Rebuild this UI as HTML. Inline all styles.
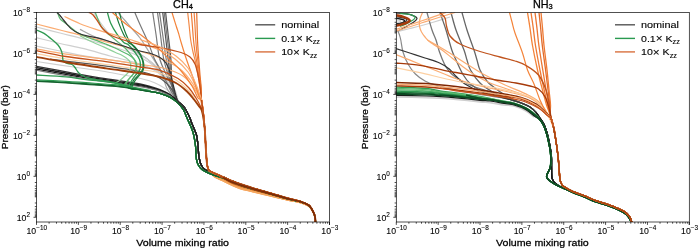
<!DOCTYPE html><html><head><meta charset="utf-8"><style>html,body{margin:0;padding:0;background:#fff;width:700px;height:248px;overflow:hidden}svg{display:block;will-change:transform}text{font-family:"Liberation Sans", sans-serif;fill:#000;stroke:#000;stroke-width:0.28px}</style></head><body>
<svg width="700" height="248" viewBox="0 0 700 248">
<defs><clipPath id="c1"><rect x="36.5" y="12.5" width="293" height="209.5"/></clipPath><clipPath id="c2"><rect x="396.3" y="12.5" width="293" height="209.5"/></clipPath></defs>
<g clip-path="url(#c1)" fill="none" stroke-linecap="butt" stroke-linejoin="round">
<path d="M36.5 37.7 C40.42 38.67 52.08 41.67 60 43.5 C67.92 45.33 75.67 46.62 84 48.7 C92.33 50.78 100.67 53.45 110 56 C119.33 58.55 131.33 61 140 64 C148.67 67 156.33 70 162 74 C167.67 78 171.33 83.67 174 88 C176.67 92.33 177.33 98 178 100" stroke="#cfcfcf" stroke-width="1.2"/>
<path d="M36.5 61.5 C42.08 62.33 57.75 64.67 70 66.5 C82.25 68.33 96.67 70.08 110 72.5 C123.33 74.92 140 77.75 150 81 C160 84.25 165.33 88.58 170 92 C174.67 95.42 176.67 99.92 178 101.5" stroke="#cfcfcf" stroke-width="1.2"/>
<path d="M80 29.4 C82.67 30.73 90.67 35.22 96 37.4 C101.33 39.58 106.67 40.73 112 42.5 C117.33 44.27 123.33 46.08 128 48 C132.67 49.92 136 51.5 140 54 C144 56.5 148.17 59.33 152 63 C155.83 66.67 159.67 71.5 163 76 C166.33 80.5 169.5 85.83 172 90 C174.5 94.17 177 99.17 178 101" stroke="#a6a6a6" stroke-width="1.2"/>
<path d="M36.5 27 C40.42 28 52.08 31 60 33 C67.92 35 75.67 36.83 84 39 C92.33 41.17 101.67 43.5 110 46 C118.33 48.5 127.33 51.17 134 54 C140.67 56.83 145.67 60 150 63 C154.33 66 158.33 70.5 160 72" stroke="#cfcfcf" stroke-width="1.2"/>
<path d="M36.5 46.2 C40.42 47 52.03 49.38 60 51 C67.97 52.62 75.97 54.43 84.3 55.9 C92.63 57.37 101.95 58.53 110 59.8 C118.05 61.07 125.6 61.97 132.6 63.5 C139.6 65.03 146.43 66.25 152 69 C157.57 71.75 162.5 76.17 166 80 C169.5 83.83 171.17 88.67 173 92 C174.83 95.33 176.33 98.67 177 100" stroke="#cfcfcf" stroke-width="1.2"/>
<path d="M94 13 C95 14.5 97.58 18.67 100 22 C102.42 25.33 105.67 29.75 108.5 33 C111.33 36.25 113.78 38.9 117 41.5 C120.22 44.1 123.97 46.35 127.8 48.6 C131.63 50.85 136.3 52.93 140 55 C143.7 57.07 146.67 58.5 150 61 C153.33 63.5 157 66.5 160 70 C163 73.5 165.83 78.17 168 82 C170.17 85.83 172.17 91.17 173 93" stroke="#cfcfcf" stroke-width="1.2"/>
<path d="M118 12.5 C119.17 13.83 122.57 17.7 125 20.5 C127.43 23.3 130.1 26.38 132.6 29.3 C135.1 32.22 137.6 34.78 140 38 C142.4 41.22 144.67 44.93 147 48.6 C149.33 52.27 151.57 55.97 154 60 C156.43 64.03 159.53 68.25 161.6 72.8 C163.67 77.35 164.67 83.43 166.4 87.3 C168.13 91.17 171.07 94.55 172 96" stroke="#a6a6a6" stroke-width="1.2"/>
<path d="M134.8 12.4 C135.67 14.42 137.8 19.57 140 24.5 C142.2 29.43 145.67 36.42 148 42 C150.33 47.58 152 53.5 154 58 C156 62.5 158 65.17 160 69 C162 72.83 164 77 166 81 C168 85 170 89.58 172 93 C174 96.42 176.08 99.25 178 101.5 C179.92 103.75 182 104.75 183.5 106.5 C185 108.25 185.97 110.15 187 112 C188.03 113.85 188.85 115.58 189.7 117.6 C190.55 119.62 191.28 122.03 192.1 124.1 C192.92 126.17 193.87 128.18 194.6 130 C195.33 131.82 196 133 196.5 135 C197 137 197.32 139.83 197.6 142 C197.88 144.17 198.02 145.83 198.2 148 C198.38 150.17 198.47 153 198.7 155 C198.93 157 199.18 158.33 199.6 160 C200.02 161.67 200.43 163.5 201.2 165 C201.97 166.5 202.88 167.83 204.2 169 C205.52 170.17 207.47 171.2 209.1 172 C210.73 172.8 211.85 173.03 214 173.8 C216.15 174.57 219.17 175.47 222 176.6 C224.83 177.73 228 179.35 231 180.6 C234 181.85 236.5 182.9 240 184.12 C243.5 185.34 248 186.7 252 187.92 C256 189.14 260 190.3 264 191.46 C268 192.62 272 193.74 276 194.9 C280 196.06 284 197.37 288 198.44 C292 199.51 296.58 200.22 300 201.32 C303.42 202.42 306.5 203.69 308.5 205.04 C310.5 206.39 311 207.76 312 209.4 C313 211.04 313.95 213.28 314.5 214.88 C315.05 216.48 315.13 217.48 315.3 219 C315.47 220.52 315.47 223.17 315.5 224" stroke="#7a7a7a" stroke-width="1.2"/>
<path d="M152.7 12.4 C153.27 16.17 154.97 27.4 156.1 35 C157.23 42.6 157.79 51.33 159.5 58 C161.21 64.67 164.17 70 166.38 75 C168.58 80 171.23 84.5 172.75 88 C174.27 91.5 174.62 93.75 175.5 96 C176.38 98.25 176.67 99.75 178 101.5 C179.33 103.25 182 104.75 183.5 106.5 C185 108.25 185.97 110.15 187 112 C188.03 113.85 188.85 115.58 189.7 117.6 C190.55 119.62 191.28 122.03 192.1 124.1 C192.92 126.17 193.87 128.18 194.6 130 C195.33 131.82 196 133 196.5 135 C197 137 197.32 139.83 197.6 142 C197.88 144.17 198.02 145.83 198.2 148 C198.38 150.17 198.47 153 198.7 155 C198.93 157 199.18 158.33 199.6 160 C200.02 161.67 200.43 163.5 201.2 165 C201.97 166.5 202.88 167.83 204.2 169 C205.52 170.17 207.47 171.2 209.1 172 C210.73 172.8 211.85 173.03 214 173.8 C216.15 174.57 219.17 175.47 222 176.6 C224.83 177.73 228 179.35 231 180.6 C234 181.85 236.5 182.9 240 184.12 C243.5 185.34 248 186.7 252 187.92 C256 189.14 260 190.3 264 191.46 C268 192.62 272 193.74 276 194.9 C280 196.06 284 197.37 288 198.44 C292 199.51 296.58 200.22 300 201.32 C303.42 202.42 306.5 203.69 308.5 205.04 C310.5 206.39 311 207.76 312 209.4 C313 211.04 313.95 213.28 314.5 214.88 C315.05 216.48 315.13 217.48 315.3 219 C315.47 220.52 315.47 223.17 315.5 224" stroke="#7a7a7a" stroke-width="1.2"/>
<path d="M157.5 12.4 C158 16.17 159.5 27.4 160.5 35 C161.5 42.6 162.22 51.33 163.5 58 C164.78 64.67 166.63 70 168.18 75 C169.72 80 171.53 84.5 172.75 88 C173.97 91.5 174.62 93.75 175.5 96 C176.38 98.25 176.67 99.75 178 101.5 C179.33 103.25 182 104.75 183.5 106.5 C185 108.25 185.97 110.15 187 112 C188.03 113.85 188.85 115.58 189.7 117.6 C190.55 119.62 191.28 122.03 192.1 124.1 C192.92 126.17 193.87 128.18 194.6 130 C195.33 131.82 196 133 196.5 135 C197 137 197.32 139.83 197.6 142 C197.88 144.17 198.02 145.83 198.2 148 C198.38 150.17 198.47 153 198.7 155 C198.93 157 199.18 158.33 199.6 160 C200.02 161.67 200.43 163.5 201.2 165 C201.97 166.5 202.88 167.83 204.2 169 C205.52 170.17 207.47 171.2 209.1 172 C210.73 172.8 211.85 173.03 214 173.8 C216.15 174.57 219.17 175.47 222 176.6 C224.83 177.73 228 179.35 231 180.6 C234 181.85 236.5 182.9 240 184.12 C243.5 185.34 248 186.7 252 187.92 C256 189.14 260 190.3 264 191.46 C268 192.62 272 193.74 276 194.9 C280 196.06 284 197.37 288 198.44 C292 199.51 296.58 200.22 300 201.32 C303.42 202.42 306.5 203.69 308.5 205.04 C310.5 206.39 311 207.76 312 209.4 C313 211.04 313.95 213.28 314.5 214.88 C315.05 216.48 315.13 217.48 315.3 219 C315.47 220.52 315.47 223.17 315.5 224" stroke="#7a7a7a" stroke-width="1.2"/>
<path d="M159.5 12.4 C160.04 16.17 161.67 27.4 162.75 35 C163.83 42.6 164.91 51.33 166 58 C167.09 64.67 168.18 70 169.3 75 C170.43 80 171.72 84.5 172.75 88 C173.78 91.5 174.62 93.75 175.5 96 C176.38 98.25 176.67 99.75 178 101.5 C179.33 103.25 182 104.75 183.5 106.5 C185 108.25 185.97 110.15 187 112 C188.03 113.85 188.85 115.58 189.7 117.6 C190.55 119.62 191.28 122.03 192.1 124.1 C192.92 126.17 193.87 128.18 194.6 130 C195.33 131.82 196 133 196.5 135 C197 137 197.32 139.83 197.6 142 C197.88 144.17 198.02 145.83 198.2 148 C198.38 150.17 198.47 153 198.7 155 C198.93 157 199.18 158.33 199.6 160 C200.02 161.67 200.43 163.5 201.2 165 C201.97 166.5 202.88 167.83 204.2 169 C205.52 170.17 207.47 171.2 209.1 172 C210.73 172.8 211.85 173.03 214 173.8 C216.15 174.57 219.17 175.47 222 176.6 C224.83 177.73 228 179.35 231 180.6 C234 181.85 236.5 182.9 240 184.12 C243.5 185.34 248 186.7 252 187.92 C256 189.14 260 190.3 264 191.46 C268 192.62 272 193.74 276 194.9 C280 196.06 284 197.37 288 198.44 C292 199.51 296.58 200.22 300 201.32 C303.42 202.42 306.5 203.69 308.5 205.04 C310.5 206.39 311 207.76 312 209.4 C313 211.04 313.95 213.28 314.5 214.88 C315.05 216.48 315.13 217.48 315.3 219 C315.47 220.52 315.47 223.17 315.5 224" stroke="#7a7a7a" stroke-width="1.2"/>
<path d="M162.7 12.4 C163.14 16.17 164.47 27.4 165.35 35 C166.23 42.6 167.19 51.33 168 58 C168.81 64.67 169.41 70 170.2 75 C170.99 80 171.87 84.5 172.75 88 C173.63 91.5 174.62 93.75 175.5 96 C176.38 98.25 176.67 99.75 178 101.5 C179.33 103.25 182 104.75 183.5 106.5 C185 108.25 185.97 110.15 187 112 C188.03 113.85 188.85 115.58 189.7 117.6 C190.55 119.62 191.28 122.03 192.1 124.1 C192.92 126.17 193.87 128.18 194.6 130 C195.33 131.82 196 133 196.5 135 C197 137 197.32 139.83 197.6 142 C197.88 144.17 198.02 145.83 198.2 148 C198.38 150.17 198.47 153 198.7 155 C198.93 157 199.18 158.33 199.6 160 C200.02 161.67 200.43 163.5 201.2 165 C201.97 166.5 202.88 167.83 204.2 169 C205.52 170.17 207.47 171.2 209.1 172 C210.73 172.8 211.85 173.03 214 173.8 C216.15 174.57 219.17 175.47 222 176.6 C224.83 177.73 228 179.35 231 180.6 C234 181.85 236.5 182.9 240 184.12 C243.5 185.34 248 186.7 252 187.92 C256 189.14 260 190.3 264 191.46 C268 192.62 272 193.74 276 194.9 C280 196.06 284 197.37 288 198.44 C292 199.51 296.58 200.22 300 201.32 C303.42 202.42 306.5 203.69 308.5 205.04 C310.5 206.39 311 207.76 312 209.4 C313 211.04 313.95 213.28 314.5 214.88 C315.05 216.48 315.13 217.48 315.3 219 C315.47 220.52 315.47 223.17 315.5 224" stroke="#555555" stroke-width="1.2"/>
<path d="M164.2 12.4 C164.64 16.17 165.97 27.4 166.85 35 C167.73 42.6 168.83 51.33 169.5 58 C170.17 64.67 170.33 70 170.88 75 C171.42 80 171.98 84.5 172.75 88 C173.52 91.5 174.62 93.75 175.5 96 C176.38 98.25 176.67 99.75 178 101.5 C179.33 103.25 182 104.75 183.5 106.5 C185 108.25 185.97 110.15 187 112 C188.03 113.85 188.85 115.58 189.7 117.6 C190.55 119.62 191.28 122.03 192.1 124.1 C192.92 126.17 193.87 128.18 194.6 130 C195.33 131.82 196 133 196.5 135 C197 137 197.32 139.83 197.6 142 C197.88 144.17 198.02 145.83 198.2 148 C198.38 150.17 198.47 153 198.7 155 C198.93 157 199.18 158.33 199.6 160 C200.02 161.67 200.43 163.5 201.2 165 C201.97 166.5 202.88 167.83 204.2 169 C205.52 170.17 207.47 171.2 209.1 172 C210.73 172.8 211.85 173.03 214 173.8 C216.15 174.57 219.17 175.47 222 176.6 C224.83 177.73 228 179.35 231 180.6 C234 181.85 236.5 182.9 240 184.12 C243.5 185.34 248 186.7 252 187.92 C256 189.14 260 190.3 264 191.46 C268 192.62 272 193.74 276 194.9 C280 196.06 284 197.37 288 198.44 C292 199.51 296.58 200.22 300 201.32 C303.42 202.42 306.5 203.69 308.5 205.04 C310.5 206.39 311 207.76 312 209.4 C313 211.04 313.95 213.28 314.5 214.88 C315.05 216.48 315.13 217.48 315.3 219 C315.47 220.52 315.47 223.17 315.5 224" stroke="#7a7a7a" stroke-width="1.2"/>
<path d="M165.6 12.4 C166.03 16.17 167.33 27.4 168.2 35 C169.07 42.6 170.26 51.33 170.8 58 C171.34 64.67 171.14 70 171.46 75 C171.78 80 172.08 84.5 172.75 88 C173.42 91.5 174.62 93.75 175.5 96 C176.38 98.25 176.67 99.75 178 101.5 C179.33 103.25 182 104.75 183.5 106.5 C185 108.25 185.97 110.15 187 112 C188.03 113.85 188.85 115.58 189.7 117.6 C190.55 119.62 191.28 122.03 192.1 124.1 C192.92 126.17 193.87 128.18 194.6 130 C195.33 131.82 196 133 196.5 135 C197 137 197.32 139.83 197.6 142 C197.88 144.17 198.02 145.83 198.2 148 C198.38 150.17 198.47 153 198.7 155 C198.93 157 199.18 158.33 199.6 160 C200.02 161.67 200.43 163.5 201.2 165 C201.97 166.5 202.88 167.83 204.2 169 C205.52 170.17 207.47 171.2 209.1 172 C210.73 172.8 211.85 173.03 214 173.8 C216.15 174.57 219.17 175.47 222 176.6 C224.83 177.73 228 179.35 231 180.6 C234 181.85 236.5 182.9 240 184.12 C243.5 185.34 248 186.7 252 187.92 C256 189.14 260 190.3 264 191.46 C268 192.62 272 193.74 276 194.9 C280 196.06 284 197.37 288 198.44 C292 199.51 296.58 200.22 300 201.32 C303.42 202.42 306.5 203.69 308.5 205.04 C310.5 206.39 311 207.76 312 209.4 C313 211.04 313.95 213.28 314.5 214.88 C315.05 216.48 315.13 217.48 315.3 219 C315.47 220.52 315.47 223.17 315.5 224" stroke="#555555" stroke-width="1.2"/>
<path d="M36.5 66.3 C40.42 67.02 52.75 69.25 60 70.6 C67.25 71.95 73.33 73.2 80 74.4 C86.67 75.6 94 76.83 100 77.8 C106 78.77 109.33 79.17 116 80.2 C122.67 81.23 134.33 82.97 140 84 C145.67 85.03 146.67 85.48 150 86.4 C153.33 87.32 156.67 88.13 160 89.5 C163.33 90.87 167 92.6 170 94.6 C173 96.6 175.75 99.52 178 101.5 C180.25 103.48 182 104.75 183.5 106.5 C185 108.25 185.97 110.15 187 112 C188.03 113.85 188.85 115.58 189.7 117.6 C190.55 119.62 191.28 122.03 192.1 124.1 C192.92 126.17 193.87 128.18 194.6 130 C195.33 131.82 196 133 196.5 135 C197 137 197.32 139.83 197.6 142 C197.88 144.17 198.02 145.83 198.2 148 C198.38 150.17 198.47 153 198.7 155 C198.93 157 199.18 158.33 199.6 160 C200.02 161.67 200.43 163.5 201.2 165 C201.97 166.5 202.88 167.83 204.2 169 C205.52 170.17 207.47 171.2 209.1 172 C210.73 172.8 211.85 173.03 214 173.8 C216.15 174.57 219.17 175.47 222 176.6 C224.83 177.73 228 179.35 231 180.6 C234 181.85 236.5 182.9 240 184.12 C243.5 185.34 248 186.7 252 187.92 C256 189.14 260 190.3 264 191.46 C268 192.62 272 193.74 276 194.9 C280 196.06 284 197.37 288 198.44 C292 199.51 296.58 200.22 300 201.32 C303.42 202.42 306.5 203.69 308.5 205.04 C310.5 206.39 311 207.76 312 209.4 C313 211.04 313.95 213.28 314.5 214.88 C315.05 216.48 315.13 217.48 315.3 219 C315.47 220.52 315.47 223.17 315.5 224" stroke="#333333" stroke-width="1.32"/>
<path d="M36.5 67.7 C40.42 68.42 52.75 70.67 60 72 C67.25 73.33 73.33 74.51 80 75.66 C86.67 76.81 94 77.99 100 78.92 C106 79.85 109.33 80.25 116 81.25 C122.67 82.25 134.33 83.92 140 84.91 C145.67 85.9 146.67 86.3 150 87.17 C153.33 88.04 156.67 88.82 160 90.13 C163.33 91.44 167 93.12 170 95.02 C173 96.91 175.75 99.59 178 101.5 C180.25 103.41 182 104.75 183.5 106.5 C185 108.25 185.97 110.15 187 112 C188.03 113.85 188.85 115.58 189.7 117.6 C190.55 119.62 191.28 122.03 192.1 124.1 C192.92 126.17 193.87 128.18 194.6 130 C195.33 131.82 196 133 196.5 135 C197 137 197.32 139.83 197.6 142 C197.88 144.17 198.02 145.83 198.2 148 C198.38 150.17 198.47 153 198.7 155 C198.93 157 199.18 158.33 199.6 160 C200.02 161.67 200.43 163.5 201.2 165 C201.97 166.5 202.88 167.83 204.2 169 C205.52 170.17 207.47 171.2 209.1 172 C210.73 172.8 211.85 173.03 214 173.8 C216.15 174.57 219.17 175.47 222 176.6 C224.83 177.73 228 179.35 231 180.6 C234 181.85 236.5 182.9 240 184.12 C243.5 185.34 248 186.7 252 187.92 C256 189.14 260 190.3 264 191.46 C268 192.62 272 193.74 276 194.9 C280 196.06 284 197.37 288 198.44 C292 199.51 296.58 200.22 300 201.32 C303.42 202.42 306.5 203.69 308.5 205.04 C310.5 206.39 311 207.76 312 209.4 C313 211.04 313.95 213.28 314.5 214.88 C315.05 216.48 315.13 217.48 315.3 219 C315.47 220.52 315.47 223.17 315.5 224" stroke="#1a1a1a" stroke-width="1.32"/>
<path d="M36.5 69.1 C40.42 69.82 52.75 72.1 60 73.4 C67.25 74.7 73.33 75.81 80 76.92 C86.67 78.03 94 79.14 100 80.04 C106 80.94 109.33 81.34 116 82.3 C122.67 83.26 134.33 84.88 140 85.82 C145.67 86.76 146.67 87.12 150 87.94 C153.33 88.76 156.67 89.51 160 90.76 C163.33 92.01 167 93.65 170 95.44 C173 97.23 175.75 99.66 178 101.5 C180.25 103.34 182 104.75 183.5 106.5 C185 108.25 185.97 110.15 187 112 C188.03 113.85 188.85 115.58 189.7 117.6 C190.55 119.62 191.28 122.03 192.1 124.1 C192.92 126.17 193.87 128.18 194.6 130 C195.33 131.82 196 133 196.5 135 C197 137 197.32 139.83 197.6 142 C197.88 144.17 198.02 145.83 198.2 148 C198.38 150.17 198.47 153 198.7 155 C198.93 157 199.18 158.33 199.6 160 C200.02 161.67 200.43 163.5 201.2 165 C201.97 166.5 202.88 167.83 204.2 169 C205.52 170.17 207.47 171.2 209.1 172 C210.73 172.8 211.85 173.03 214 173.8 C216.15 174.57 219.17 175.47 222 176.6 C224.83 177.73 228 179.35 231 180.6 C234 181.85 236.5 182.9 240 184.12 C243.5 185.34 248 186.7 252 187.92 C256 189.14 260 190.3 264 191.46 C268 192.62 272 193.74 276 194.9 C280 196.06 284 197.37 288 198.44 C292 199.51 296.58 200.22 300 201.32 C303.42 202.42 306.5 203.69 308.5 205.04 C310.5 206.39 311 207.76 312 209.4 C313 211.04 313.95 213.28 314.5 214.88 C315.05 216.48 315.13 217.48 315.3 219 C315.47 220.52 315.47 223.17 315.5 224" stroke="#1a1a1a" stroke-width="1.32"/>
<path d="M36.5 70.3 C40.42 71.02 52.75 73.32 60 74.6 C67.25 75.88 73.33 76.93 80 78 C86.67 79.07 94 80.13 100 81 C106 81.87 109.33 82.27 116 83.2 C122.67 84.13 134.33 85.7 140 86.6 C145.67 87.5 146.67 87.82 150 88.6 C153.33 89.38 156.67 90.1 160 91.3 C163.33 92.5 167 94.1 170 95.8 C173 97.5 175.75 99.72 178 101.5 C180.25 103.28 182 104.75 183.5 106.5 C185 108.25 185.97 110.15 187 112 C188.03 113.85 188.85 115.58 189.7 117.6 C190.55 119.62 191.28 122.03 192.1 124.1 C192.92 126.17 193.87 128.18 194.6 130 C195.33 131.82 196 133 196.5 135 C197 137 197.32 139.83 197.6 142 C197.88 144.17 198.02 145.83 198.2 148 C198.38 150.17 198.47 153 198.7 155 C198.93 157 199.18 158.33 199.6 160 C200.02 161.67 200.43 163.5 201.2 165 C201.97 166.5 202.88 167.83 204.2 169 C205.52 170.17 207.47 171.2 209.1 172 C210.73 172.8 211.85 173.03 214 173.8 C216.15 174.57 219.17 175.47 222 176.6 C224.83 177.73 228 179.35 231 180.6 C234 181.85 236.5 182.9 240 184.12 C243.5 185.34 248 186.7 252 187.92 C256 189.14 260 190.3 264 191.46 C268 192.62 272 193.74 276 194.9 C280 196.06 284 197.37 288 198.44 C292 199.51 296.58 200.22 300 201.32 C303.42 202.42 306.5 203.69 308.5 205.04 C310.5 206.39 311 207.76 312 209.4 C313 211.04 313.95 213.28 314.5 214.88 C315.05 216.48 315.13 217.48 315.3 219 C315.47 220.52 315.47 223.17 315.5 224" stroke="#7a7a7a" stroke-width="1.08"/>
<path d="M50 59.2 C52.67 59.52 56.67 59.95 66 61.1 C75.33 62.25 93.67 64.37 106 66.1 C118.33 67.83 131.33 69.68 140 71.5 C148.67 73.32 153 74.42 158 77 C163 79.58 167.17 83.83 170 87 C172.83 90.17 173.67 93.58 175 96 C176.33 98.42 176.58 99.75 178 101.5 C179.42 103.25 182 104.75 183.5 106.5 C185 108.25 185.97 110.15 187 112 C188.03 113.85 188.85 115.58 189.7 117.6 C190.55 119.62 191.28 122.03 192.1 124.1 C192.92 126.17 193.87 128.18 194.6 130 C195.33 131.82 196 133 196.5 135 C197 137 197.32 139.83 197.6 142 C197.88 144.17 198.02 145.83 198.2 148 C198.38 150.17 198.47 153 198.7 155 C198.93 157 199.18 158.33 199.6 160 C200.02 161.67 200.43 163.5 201.2 165 C201.97 166.5 202.88 167.83 204.2 169 C205.52 170.17 207.47 171.2 209.1 172 C210.73 172.8 211.85 173.03 214 173.8 C216.15 174.57 219.17 175.47 222 176.6 C224.83 177.73 228 179.35 231 180.6 C234 181.85 236.5 182.9 240 184.12 C243.5 185.34 248 186.7 252 187.92 C256 189.14 260 190.3 264 191.46 C268 192.62 272 193.74 276 194.9 C280 196.06 284 197.37 288 198.44 C292 199.51 296.58 200.22 300 201.32 C303.42 202.42 306.5 203.69 308.5 205.04 C310.5 206.39 311 207.76 312 209.4 C313 211.04 313.95 213.28 314.5 214.88 C315.05 216.48 315.13 217.48 315.3 219 C315.47 220.52 315.47 223.17 315.5 224" stroke="#555555" stroke-width="1.2"/>
<path d="M172 96.5 C173 97.33 176.08 99.83 178 101.5 C179.92 103.17 182 104.75 183.5 106.5 C185 108.25 185.97 110.15 187 112 C188.03 113.85 188.85 115.58 189.7 117.6 C190.55 119.62 191.28 122.03 192.1 124.1 C192.92 126.17 193.87 128.18 194.6 130 C195.33 131.82 196 133 196.5 135 C197 137 197.32 139.83 197.6 142 C197.88 144.17 198.02 145.83 198.2 148 C198.38 150.17 198.47 153 198.7 155 C198.93 157 199.18 158.33 199.6 160 C200.02 161.67 200.43 163.5 201.2 165 C201.97 166.5 202.88 167.83 204.2 169 C205.52 170.17 208.28 171.5 209.1 172" stroke="#1a1a1a" stroke-width="1.25"/>
<path d="M36.5 24 C40.42 25 52.08 28 60 30 C67.92 32 75.67 33.83 84 36 C92.33 38.17 101.33 40.67 110 43 C118.67 45.33 127.67 47.5 136 50 C144.33 52.5 152.67 54.83 160 58 C167.33 61.17 174.5 64.67 180 69 C185.5 73.33 189.75 79.33 193 84 C196.25 88.67 198.08 94.33 199.5 97 C200.92 99.67 200.88 97.5 201.5 100 C202.12 102.5 202.73 108 203.2 112 C203.67 116 203.97 120 204.3 124 C204.63 128 204.95 132 205.2 136 C205.45 140 205.6 144.5 205.8 148 C206 151.5 206.2 154.33 206.4 157 C206.6 159.67 206.55 161.73 207 164 C207.45 166.27 207.93 168.69 209.1 170.6 C210.27 172.51 211.85 174.04 214 175.48 C216.15 176.92 219.17 177.94 222 179.26 C224.83 180.58 228 182.14 231 183.42 C234 184.7 236.5 185.79 240 186.92 C243.5 188.05 248 189.15 252 190.22 C256 191.29 260 192.33 264 193.36 C268 194.39 272 195.37 276 196.4 C280 197.43 284 198.59 288 199.54 C292 200.49 296.58 201.1 300 202.12 C303.42 203.14 306.5 204.34 308.5 205.64 C310.5 206.94 311 208.33 312 209.9 C313 211.47 313.95 213.56 314.5 215.08 C315.05 216.6 315.13 217.51 315.3 219 C315.47 220.49 315.47 223.17 315.5 224" stroke="#fbac72" stroke-width="1.2"/>
<path d="M36.5 48.8 C41.42 49.7 54.42 52.45 66 54.2 C77.58 55.95 93.67 57.62 106 59.3 C118.33 60.98 130.17 62.77 140 64.3 C149.83 65.83 157.83 66.55 165 68.5 C172.17 70.45 178.17 72.75 183 76 C187.83 79.25 191.17 84.17 194 88 C196.83 91.83 198.47 95 200 99 C201.53 103 202.48 107.83 203.2 112 C203.92 116.17 203.97 120 204.3 124 C204.63 128 204.95 132 205.2 136 C205.45 140 205.6 144.5 205.8 148 C206 151.5 206.2 154.33 206.4 157 C206.6 159.67 206.55 161.73 207 164 C207.45 166.27 207.93 168.52 209.1 170.6 C210.27 172.68 211.85 174.87 214 176.5 C216.15 178.13 219.17 179.02 222 180.4 C224.83 181.78 228 183.43 231 184.8 C234 186.17 236.5 187.47 240 188.6 C243.5 189.73 248 190.62 252 191.6 C256 192.58 260 193.55 264 194.5 C268 195.45 272 196.35 276 197.3 C280 198.25 284 199.32 288 200.2 C292 201.08 296.58 201.63 300 202.6 C303.42 203.57 306.5 204.73 308.5 206 C310.5 207.27 311 208.67 312 210.2 C313 211.73 313.95 213.73 314.5 215.2 C315.05 216.67 315.13 217.53 315.3 219 C315.47 220.47 315.47 223.17 315.5 224" stroke="#fbac72" stroke-width="1.2"/>
<path d="M36.5 53.6 C41.42 54.5 54.42 57.18 66 59 C77.58 60.82 93.67 62.75 106 64.5 C118.33 66.25 131 68.08 140 69.5 C149 70.92 154 71.25 160 73 C166 74.75 171.17 77 176 80 C180.83 83 185.5 87.17 189 91 C192.5 94.83 194.87 99.67 197 103 C199.13 106.33 200.58 107.5 201.8 111 C203.02 114.5 203.73 119.83 204.3 124 C204.87 128.17 204.95 132 205.2 136 C205.45 140 205.6 144.5 205.8 148 C206 151.5 206.2 154.33 206.4 157 C206.6 159.67 206.55 161.73 207 164 C207.45 166.27 207.93 168.83 209.1 170.6 C210.27 172.37 211.85 173.34 214 174.63 C216.15 175.91 219.17 177.04 222 178.31 C224.83 179.58 228 181.07 231 182.27 C234 183.47 236.5 184.39 240 185.52 C243.5 186.65 248 187.92 252 189.07 C256 190.22 260 191.31 264 192.41 C268 193.51 272 194.55 276 195.65 C280 196.75 284 197.98 288 198.99 C292 200 296.58 200.66 300 201.72 C303.42 202.78 306.5 204.02 308.5 205.34 C310.5 206.66 311 208.04 312 209.65 C313 211.26 313.95 213.42 314.5 214.98 C315.05 216.54 315.13 217.5 315.3 219 C315.47 220.5 315.47 223.17 315.5 224" stroke="#fdd0a2" stroke-width="1.2"/>
<path d="M207.6 167.6 C207.85 168.1 208.03 169.54 209.1 170.6 C210.17 171.66 211.85 172.79 214 173.95 C216.15 175.11 219.17 176.32 222 177.55 C224.83 178.78 228 180.21 231 181.35 C234 182.49 236.5 183.27 240 184.4 C243.5 185.53 248 186.94 252 188.15 C256 189.36 260 190.5 264 191.65 C268 192.8 272 193.9 276 195.05 C280 196.2 284 197.49 288 198.55 C292 199.61 296.58 200.31 300 201.4 C303.42 202.49 306.5 203.76 308.5 205.1 C310.5 206.44 311 207.82 312 209.45 C313 211.08 313.95 213.31 314.5 214.9 C315.05 216.49 315.13 217.48 315.3 219 C315.47 220.52 315.47 223.17 315.5 224" stroke="#ee9240" stroke-width="1.32"/>
<path d="M207.6 167.6 C207.85 168.1 208.03 169.47 209.1 170.6 C210.17 171.73 211.85 173.15 214 174.39 C216.15 175.63 219.17 176.78 222 178.04 C224.83 179.3 228 180.77 231 181.95 C234 183.13 236.5 183.99 240 185.13 C243.5 186.26 248 187.58 252 188.75 C256 189.92 260 191.03 264 192.14 C268 193.26 272 194.32 276 195.44 C280 196.56 284 197.81 288 198.84 C292 199.86 296.58 200.54 300 201.61 C303.42 202.68 306.5 203.93 308.5 205.26 C310.5 206.58 311 207.96 312 209.58 C313 211.2 313.95 213.38 314.5 214.95 C315.05 216.52 315.13 217.49 315.3 219 C315.47 220.51 315.47 223.17 315.5 224" stroke="#f29c4c" stroke-width="1.32"/>
<path d="M207.6 167.6 C207.85 168.1 208.03 169.4 209.1 170.6 C210.17 171.8 211.85 173.48 214 174.8 C216.15 176.12 219.17 177.22 222 178.5 C224.83 179.78 228 181.28 231 182.5 C234 183.72 236.5 184.67 240 185.8 C243.5 186.93 248 188.17 252 189.3 C256 190.43 260 191.52 264 192.6 C268 193.68 272 194.72 276 195.8 C280 196.88 284 198.1 288 199.1 C292 200.1 296.58 200.75 300 201.8 C303.42 202.85 306.5 204.08 308.5 205.4 C310.5 206.72 311 208.1 312 209.7 C313 211.3 313.95 213.45 314.5 215 C315.05 216.55 315.13 217.5 315.3 219 C315.47 220.5 315.47 223.17 315.5 224" stroke="#ef9644" stroke-width="1.32"/>
<path d="M207.6 167.6 C207.85 168.1 208.03 169.33 209.1 170.6 C210.17 171.87 211.85 173.82 214 175.21 C216.15 176.6 219.17 177.65 222 178.96 C224.83 180.26 228 181.8 231 183.05 C234 184.3 236.5 185.34 240 186.47 C243.5 187.61 248 188.75 252 189.85 C256 190.95 260 192 264 193.06 C268 194.11 272 195.11 276 196.16 C280 197.21 284 198.39 288 199.36 C292 200.34 296.58 200.96 300 201.99 C303.42 203.02 306.5 204.24 308.5 205.54 C310.5 206.85 311 208.24 312 209.82 C313 211.4 313.95 213.52 314.5 215.05 C315.05 216.58 315.13 217.51 315.3 219 C315.47 220.49 315.47 223.17 315.5 224" stroke="#f3a052" stroke-width="1.32"/>
<path d="M207.6 167.6 C207.85 168.1 208.03 169.26 209.1 170.6 C210.17 171.94 211.85 174.15 214 175.62 C216.15 177.08 219.17 178.08 222 179.41 C224.83 180.74 228 182.32 231 183.6 C234 184.89 236.5 186.01 240 187.14 C243.5 188.28 248 189.34 252 190.4 C256 191.47 260 192.49 264 193.51 C268 194.53 272 195.5 276 196.52 C280 197.54 284 198.68 288 199.63 C292 200.57 296.58 201.17 300 202.18 C303.42 203.19 306.5 204.4 308.5 205.69 C310.5 206.98 311 208.37 312 209.94 C313 211.51 313.95 213.59 314.5 215.1 C315.05 216.61 315.13 217.52 315.3 219 C315.47 220.48 315.47 223.17 315.5 224" stroke="#ec8a3a" stroke-width="1.32"/>
<path d="M207.6 167.6 C207.85 168.1 208.03 169.2 209.1 170.6 C210.17 172 211.85 174.45 214 175.99 C216.15 177.53 219.17 178.48 222 179.83 C224.83 181.18 228 182.79 231 184.11 C234 185.43 236.5 186.63 240 187.76 C243.5 188.89 248 189.88 252 190.91 C256 191.94 260 192.94 264 193.93 C268 194.92 272 195.86 276 196.85 C280 197.84 284 198.95 288 199.87 C292 200.79 296.58 201.37 300 202.36 C303.42 203.35 306.5 204.54 308.5 205.82 C310.5 207.1 311 208.5 312 210.05 C313 211.6 313.95 213.65 314.5 215.14 C315.05 216.63 315.13 217.52 315.3 219 C315.47 220.48 315.47 223.17 315.5 224" stroke="#f09848" stroke-width="1.32"/>
<path d="M207.6 167.6 C207.85 168.1 208.03 169.16 209.1 170.6 C210.17 172.04 211.85 174.67 214 176.26 C216.15 177.85 219.17 178.76 222 180.13 C224.83 181.5 228 183.13 231 184.48 C234 185.82 236.5 187.07 240 188.21 C243.5 189.34 248 190.27 252 191.28 C256 192.28 260 193.27 264 194.23 C268 195.2 272 196.12 276 197.09 C280 198.06 284 199.15 288 200.05 C292 200.95 296.58 201.51 300 202.49 C303.42 203.47 306.5 204.64 308.5 205.92 C310.5 207.19 311 208.59 312 210.13 C313 211.67 313.95 213.69 314.5 215.17 C315.05 216.65 315.13 217.53 315.3 219 C315.47 220.47 315.47 223.17 315.5 224" stroke="#f4a458" stroke-width="1.32"/>
<path d="M207.6 167.6 C207.85 168.1 208.03 169.12 209.1 170.6 C210.17 172.08 211.85 174.87 214 176.5 C216.15 178.13 219.17 179.02 222 180.4 C224.83 181.78 228 183.43 231 184.8 C234 186.17 236.5 187.47 240 188.6 C243.5 189.73 248 190.62 252 191.6 C256 192.58 260 193.55 264 194.5 C268 195.45 272 196.35 276 197.3 C280 198.25 284 199.32 288 200.2 C292 201.08 296.58 201.63 300 202.6 C303.42 203.57 306.5 204.73 308.5 206 C310.5 207.27 311 208.67 312 210.2 C313 211.73 313.95 213.73 314.5 215.2 C315.05 216.67 315.13 217.53 315.3 219 C315.47 220.47 315.47 223.17 315.5 224" stroke="#f5a860" stroke-width="1.32"/>
<path d="M36.5 30 C37.75 30.57 41.32 31.73 44 33.4 C46.68 35.07 50.27 38.07 52.6 40 C54.93 41.93 56.6 43.33 58 45 C59.4 46.67 60.25 48.33 61 50 C61.75 51.67 62.17 53.33 62.5 55 C62.83 56.67 62.42 58.67 63 60 C63.58 61.33 64.5 62.25 66 63 C67.5 63.75 70.5 63.75 72 64.5 C73.5 65.25 74 66.25 75 67.5 C76 68.75 76.83 70.67 78 72 C79.17 73.33 80 74.42 82 75.5 C84 76.58 85.67 77.5 90 78.5 C94.33 79.5 99.67 79.67 108 81.5 C116.33 83.33 133 87.87 140 89.5 C147 91.13 146.67 90.65 150 91.3 C153.33 91.95 156.63 92.4 160 93.4 C163.37 94.4 167.17 95.67 170.2 97.3 C173.23 98.93 175.97 101.08 178.2 103.2 C180.43 105.32 182.17 107.6 183.6 110 C185.03 112.4 185.78 115.25 186.8 117.6 C187.82 119.95 188.8 122.03 189.7 124.1 C190.6 126.17 191.53 128.18 192.2 130 C192.87 131.82 193.23 133 193.7 135 C194.17 137 194.67 139.83 195 142 C195.33 144.17 195.52 145.83 195.7 148 C195.88 150.17 195.95 153 196.1 155 C196.25 157 196.23 158.33 196.6 160 C196.97 161.67 197.4 163.4 198.3 165 C199.2 166.6 200.43 168.32 202 169.6 C203.57 170.88 205.57 171.72 207.7 172.7 C209.83 173.68 212.22 174.62 214.8 175.5 C217.38 176.38 220.5 176.98 223.2 178 C225.9 179.02 228.2 180.39 231 181.6 C233.8 182.81 236.5 184.03 240 185.24 C243.5 186.45 248 187.68 252 188.84 C256 190 260 191.11 264 192.22 C268 193.33 272 194.39 276 195.5 C280 196.61 284 197.86 288 198.88 C292 199.9 296.58 200.57 300 201.64 C303.42 202.71 306.5 203.95 308.5 205.28 C310.5 206.61 311 207.99 312 209.6 C313 211.21 313.95 213.39 314.5 214.96 C315.05 216.53 315.13 217.49 315.3 219 C315.47 220.51 315.47 223.17 315.5 224" stroke="#2f9a52" stroke-width="1.32"/>
<path d="M57.5 12.5 C57.92 13.52 58.83 16.93 60 18.6 C61.17 20.27 63 21.27 64.5 22.5 C66 23.73 66.75 24.25 69 26 C71.25 27.75 75 31.13 78 33 C81 34.87 83.95 35.97 87 37.2 C90.05 38.43 93.3 39.3 96.3 40.4 C99.3 41.5 101.98 42.58 105 43.8 C108.02 45.02 111.57 46.42 114.4 47.7 C117.23 48.98 119.57 50.28 122 51.5 C124.43 52.72 127 53.75 129 55 C131 56.25 132.75 57.58 134 59 C135.25 60.42 136.08 62 136.5 63.5 C136.92 65 136.92 66.42 136.5 68 C136.08 69.58 135.17 71.25 134 73 C132.83 74.75 130.83 76.67 129.5 78.5 C128.17 80.33 126.25 82.5 126 84 C125.75 85.5 125.67 86.58 128 87.5 C130.33 88.42 136.33 88.87 140 89.5 C143.67 90.13 146.67 90.65 150 91.3 C153.33 91.95 156.63 92.4 160 93.4 C163.37 94.4 167.17 95.67 170.2 97.3 C173.23 98.93 175.97 101.08 178.2 103.2 C180.43 105.32 182.17 107.6 183.6 110 C185.03 112.4 185.78 115.25 186.8 117.6 C187.82 119.95 188.8 122.03 189.7 124.1 C190.6 126.17 191.53 128.18 192.2 130 C192.87 131.82 193.23 133 193.7 135 C194.17 137 194.67 139.83 195 142 C195.33 144.17 195.52 145.83 195.7 148 C195.88 150.17 195.95 153 196.1 155 C196.25 157 196.23 158.33 196.6 160 C196.97 161.67 197.4 163.4 198.3 165 C199.2 166.6 200.43 168.32 202 169.6 C203.57 170.88 205.57 171.72 207.7 172.7 C209.83 173.68 212.22 174.62 214.8 175.5 C217.38 176.38 220.5 176.98 223.2 178 C225.9 179.02 228.2 180.39 231 181.6 C233.8 182.81 236.5 184.03 240 185.24 C243.5 186.45 248 187.68 252 188.84 C256 190 260 191.11 264 192.22 C268 193.33 272 194.39 276 195.5 C280 196.61 284 197.86 288 198.88 C292 199.9 296.58 200.57 300 201.64 C303.42 202.71 306.5 203.95 308.5 205.28 C310.5 206.61 311 207.99 312 209.6 C313 211.21 313.95 213.39 314.5 214.96 C315.05 216.53 315.13 217.49 315.3 219 C315.47 220.51 315.47 223.17 315.5 224" stroke="#5cb870" stroke-width="1.2"/>
<path d="M80 35.8 C82.15 36.88 88.87 40.42 92.9 42.3 C96.93 44.18 100.52 45.43 104.2 47.1 C107.88 48.77 112.2 51.02 115 52.3 C117.8 53.58 119.18 53.9 121 54.8 C122.82 55.7 124.57 56.75 125.9 57.7 C127.23 58.65 128.25 59.6 129 60.5 C129.75 61.4 130.1 62.18 130.4 63.1 C130.7 64.02 130.8 65.08 130.8 66 C130.8 66.92 130.78 67.6 130.4 68.6 C130.02 69.6 129.25 70.93 128.5 72 C127.75 73.07 127.55 73.45 125.9 75 C124.25 76.55 120.75 79.8 118.6 81.3 C116.45 82.8 111.93 83.13 113 84 C114.07 84.87 120.5 85.58 125 86.5 C129.5 87.42 135.83 88.7 140 89.5 C144.17 90.3 146.67 90.65 150 91.3 C153.33 91.95 156.63 92.4 160 93.4 C163.37 94.4 167.17 95.67 170.2 97.3 C173.23 98.93 175.97 101.08 178.2 103.2 C180.43 105.32 182.17 107.6 183.6 110 C185.03 112.4 185.78 115.25 186.8 117.6 C187.82 119.95 188.8 122.03 189.7 124.1 C190.6 126.17 191.53 128.18 192.2 130 C192.87 131.82 193.23 133 193.7 135 C194.17 137 194.67 139.83 195 142 C195.33 144.17 195.52 145.83 195.7 148 C195.88 150.17 195.95 153 196.1 155 C196.25 157 196.23 158.33 196.6 160 C196.97 161.67 197.4 163.4 198.3 165 C199.2 166.6 200.43 168.32 202 169.6 C203.57 170.88 205.57 171.72 207.7 172.7 C209.83 173.68 212.22 174.62 214.8 175.5 C217.38 176.38 220.5 176.98 223.2 178 C225.9 179.02 228.2 180.39 231 181.6 C233.8 182.81 236.5 184.03 240 185.24 C243.5 186.45 248 187.68 252 188.84 C256 190 260 191.11 264 192.22 C268 193.33 272 194.39 276 195.5 C280 196.61 284 197.86 288 198.88 C292 199.9 296.58 200.57 300 201.64 C303.42 202.71 306.5 203.95 308.5 205.28 C310.5 206.61 311 207.99 312 209.6 C313 211.21 313.95 213.39 314.5 214.96 C315.05 216.53 315.13 217.49 315.3 219 C315.47 220.51 315.47 223.17 315.5 224" stroke="#8fd09a" stroke-width="1.2"/>
<path d="M95.3 12.4 C96.25 14.67 99.22 22.73 101 26 C102.78 29.27 104.12 30.1 106 32 C107.88 33.9 109.92 35.42 112.3 37.4 C114.68 39.38 118.02 41.97 120.3 43.9 C122.58 45.83 124.22 47.15 126 49 C127.78 50.85 129.58 53.17 131 55 C132.42 56.83 133.62 58.25 134.5 60 C135.38 61.75 136.13 63.75 136.3 65.5 C136.47 67.25 136.22 68.83 135.5 70.5 C134.78 72.17 133.33 73.83 132 75.5 C130.67 77.17 128.75 78.83 127.5 80.5 C126.25 82.17 123.75 84.25 124.5 85.5 C125.25 86.75 129.42 87.33 132 88 C134.58 88.67 137 88.95 140 89.5 C143 90.05 146.67 90.65 150 91.3 C153.33 91.95 156.63 92.4 160 93.4 C163.37 94.4 167.17 95.67 170.2 97.3 C173.23 98.93 175.97 101.08 178.2 103.2 C180.43 105.32 182.17 107.6 183.6 110 C185.03 112.4 185.78 115.25 186.8 117.6 C187.82 119.95 188.8 122.03 189.7 124.1 C190.6 126.17 191.53 128.18 192.2 130 C192.87 131.82 193.23 133 193.7 135 C194.17 137 194.67 139.83 195 142 C195.33 144.17 195.52 145.83 195.7 148 C195.88 150.17 195.95 153 196.1 155 C196.25 157 196.23 158.33 196.6 160 C196.97 161.67 197.4 163.4 198.3 165 C199.2 166.6 200.43 168.32 202 169.6 C203.57 170.88 205.57 171.72 207.7 172.7 C209.83 173.68 212.22 174.62 214.8 175.5 C217.38 176.38 220.5 176.98 223.2 178 C225.9 179.02 228.2 180.39 231 181.6 C233.8 182.81 236.5 184.03 240 185.24 C243.5 186.45 248 187.68 252 188.84 C256 190 260 191.11 264 192.22 C268 193.33 272 194.39 276 195.5 C280 196.61 284 197.86 288 198.88 C292 199.9 296.58 200.57 300 201.64 C303.42 202.71 306.5 203.95 308.5 205.28 C310.5 206.61 311 207.99 312 209.6 C313 211.21 313.95 213.39 314.5 214.96 C315.05 216.53 315.13 217.49 315.3 219 C315.47 220.51 315.47 223.17 315.5 224" stroke="#5cb870" stroke-width="1.2"/>
<path d="M107.4 12.4 C107.93 14.15 109 19.27 110.6 22.9 C112.2 26.53 114.85 30.97 117 34.2 C119.15 37.43 121.57 40.5 123.5 42.3 C125.43 44.1 126.68 43.33 128.6 45 C130.52 46.67 133.18 49.88 135 52.3 C136.82 54.72 138.6 57.38 139.5 59.5 C140.4 61.62 140.4 63.18 140.4 65 C140.4 66.82 140.4 68.58 139.5 70.4 C138.6 72.22 136.37 74.08 135 75.9 C133.63 77.72 132.37 79.28 131.3 81.3 C130.23 83.32 127.15 86.63 128.6 88 C130.05 89.37 136.43 88.95 140 89.5 C143.57 90.05 146.67 90.65 150 91.3 C153.33 91.95 156.63 92.4 160 93.4 C163.37 94.4 167.17 95.67 170.2 97.3 C173.23 98.93 175.97 101.08 178.2 103.2 C180.43 105.32 182.17 107.6 183.6 110 C185.03 112.4 185.78 115.25 186.8 117.6 C187.82 119.95 188.8 122.03 189.7 124.1 C190.6 126.17 191.53 128.18 192.2 130 C192.87 131.82 193.23 133 193.7 135 C194.17 137 194.67 139.83 195 142 C195.33 144.17 195.52 145.83 195.7 148 C195.88 150.17 195.95 153 196.1 155 C196.25 157 196.23 158.33 196.6 160 C196.97 161.67 197.4 163.4 198.3 165 C199.2 166.6 200.43 168.32 202 169.6 C203.57 170.88 205.57 171.72 207.7 172.7 C209.83 173.68 212.22 174.62 214.8 175.5 C217.38 176.38 220.5 176.98 223.2 178 C225.9 179.02 228.2 180.39 231 181.6 C233.8 182.81 236.5 184.03 240 185.24 C243.5 186.45 248 187.68 252 188.84 C256 190 260 191.11 264 192.22 C268 193.33 272 194.39 276 195.5 C280 196.61 284 197.86 288 198.88 C292 199.9 296.58 200.57 300 201.64 C303.42 202.71 306.5 203.95 308.5 205.28 C310.5 206.61 311 207.99 312 209.6 C313 211.21 313.95 213.39 314.5 214.96 C315.05 216.53 315.13 217.49 315.3 219 C315.47 220.51 315.47 223.17 315.5 224" stroke="#2f9a52" stroke-width="1.32"/>
<path d="M115.5 12.4 C116.03 14.15 117.37 19.27 118.7 22.9 C120.03 26.53 121.88 30.97 123.5 34.2 C125.12 37.43 126.95 40.5 128.4 42.3 C129.85 44.1 130.5 43.33 132.2 45 C133.9 46.67 136.93 49.88 138.6 52.3 C140.27 54.72 141.45 57.38 142.2 59.5 C142.95 61.62 143.1 63.18 143.1 65 C143.1 66.82 143.25 68.43 142.2 70.4 C141.15 72.37 138.32 74.98 136.8 76.8 C135.28 78.62 134.13 79.35 133.1 81.3 C132.07 83.25 129.45 87.13 130.6 88.5 C131.75 89.87 136.77 89.03 140 89.5 C143.23 89.97 146.67 90.65 150 91.3 C153.33 91.95 156.63 92.4 160 93.4 C163.37 94.4 167.17 95.67 170.2 97.3 C173.23 98.93 175.97 101.08 178.2 103.2 C180.43 105.32 182.17 107.6 183.6 110 C185.03 112.4 185.78 115.25 186.8 117.6 C187.82 119.95 188.8 122.03 189.7 124.1 C190.6 126.17 191.53 128.18 192.2 130 C192.87 131.82 193.23 133 193.7 135 C194.17 137 194.67 139.83 195 142 C195.33 144.17 195.52 145.83 195.7 148 C195.88 150.17 195.95 153 196.1 155 C196.25 157 196.23 158.33 196.6 160 C196.97 161.67 197.4 163.4 198.3 165 C199.2 166.6 200.43 168.32 202 169.6 C203.57 170.88 205.57 171.72 207.7 172.7 C209.83 173.68 212.22 174.62 214.8 175.5 C217.38 176.38 220.5 176.98 223.2 178 C225.9 179.02 228.2 180.39 231 181.6 C233.8 182.81 236.5 184.03 240 185.24 C243.5 186.45 248 187.68 252 188.84 C256 190 260 191.11 264 192.22 C268 193.33 272 194.39 276 195.5 C280 196.61 284 197.86 288 198.88 C292 199.9 296.58 200.57 300 201.64 C303.42 202.71 306.5 203.95 308.5 205.28 C310.5 206.61 311 207.99 312 209.6 C313 211.21 313.95 213.39 314.5 214.96 C315.05 216.53 315.13 217.49 315.3 219 C315.47 220.51 315.47 223.17 315.5 224" stroke="#1b7a3a" stroke-width="1.2"/>
<path d="M119.5 12.4 C119.92 14.15 120.92 19.27 122 22.9 C123.08 26.53 124.67 30.97 126 34.2 C127.33 37.43 128.58 40.25 130 42.3 C131.42 44.35 132.83 44.63 134.5 46.5 C136.17 48.37 138.58 51.17 140 53.5 C141.42 55.83 142.37 58.5 143 60.5 C143.63 62.5 143.83 63.75 143.8 65.5 C143.77 67.25 143.77 69.08 142.8 71 C141.83 72.92 139.38 75.25 138 77 C136.62 78.75 135.5 79.58 134.5 81.5 C133.5 83.42 131.08 87.17 132 88.5 C132.92 89.83 137 89.03 140 89.5 C143 89.97 146.67 90.65 150 91.3 C153.33 91.95 156.63 92.4 160 93.4 C163.37 94.4 167.17 95.67 170.2 97.3 C173.23 98.93 175.97 101.08 178.2 103.2 C180.43 105.32 182.17 107.6 183.6 110 C185.03 112.4 185.78 115.25 186.8 117.6 C187.82 119.95 188.8 122.03 189.7 124.1 C190.6 126.17 191.53 128.18 192.2 130 C192.87 131.82 193.23 133 193.7 135 C194.17 137 194.67 139.83 195 142 C195.33 144.17 195.52 145.83 195.7 148 C195.88 150.17 195.95 153 196.1 155 C196.25 157 196.23 158.33 196.6 160 C196.97 161.67 197.4 163.4 198.3 165 C199.2 166.6 200.43 168.32 202 169.6 C203.57 170.88 205.57 171.72 207.7 172.7 C209.83 173.68 212.22 174.62 214.8 175.5 C217.38 176.38 220.5 176.98 223.2 178 C225.9 179.02 228.2 180.39 231 181.6 C233.8 182.81 236.5 184.03 240 185.24 C243.5 186.45 248 187.68 252 188.84 C256 190 260 191.11 264 192.22 C268 193.33 272 194.39 276 195.5 C280 196.61 284 197.86 288 198.88 C292 199.9 296.58 200.57 300 201.64 C303.42 202.71 306.5 203.95 308.5 205.28 C310.5 206.61 311 207.99 312 209.6 C313 211.21 313.95 213.39 314.5 214.96 C315.05 216.53 315.13 217.49 315.3 219 C315.47 220.51 315.47 223.17 315.5 224" stroke="#1b7a3a" stroke-width="1.2"/>
<path d="M36.5 75 C41.42 75.3 57.75 76.03 66 76.8 C74.25 77.57 77.67 78.57 86 79.6 C94.33 80.63 107 81.35 116 83 C125 84.65 134.33 88.12 140 89.5 C145.67 90.88 146.67 90.65 150 91.3 C153.33 91.95 156.63 92.4 160 93.4 C163.37 94.4 167.17 95.67 170.2 97.3 C173.23 98.93 175.97 101.08 178.2 103.2 C180.43 105.32 182.17 107.6 183.6 110 C185.03 112.4 185.78 115.25 186.8 117.6 C187.82 119.95 188.8 122.03 189.7 124.1 C190.6 126.17 191.53 128.18 192.2 130 C192.87 131.82 193.23 133 193.7 135 C194.17 137 194.67 139.83 195 142 C195.33 144.17 195.52 145.83 195.7 148 C195.88 150.17 195.95 153 196.1 155 C196.25 157 196.23 158.33 196.6 160 C196.97 161.67 197.4 163.4 198.3 165 C199.2 166.6 200.43 168.32 202 169.6 C203.57 170.88 205.57 171.72 207.7 172.7 C209.83 173.68 212.22 174.62 214.8 175.5 C217.38 176.38 220.5 176.98 223.2 178 C225.9 179.02 228.2 180.39 231 181.6 C233.8 182.81 236.5 184.03 240 185.24 C243.5 186.45 248 187.68 252 188.84 C256 190 260 191.11 264 192.22 C268 193.33 272 194.39 276 195.5 C280 196.61 284 197.86 288 198.88 C292 199.9 296.58 200.57 300 201.64 C303.42 202.71 306.5 203.95 308.5 205.28 C310.5 206.61 311 207.99 312 209.6 C313 211.21 313.95 213.39 314.5 214.96 C315.05 216.53 315.13 217.49 315.3 219 C315.47 220.51 315.47 223.17 315.5 224" stroke="#2f9a52" stroke-width="1.32"/>
<path d="M36.5 80.8 C41.42 81.05 57.75 81.82 66 82.3 C74.25 82.78 77.67 83.1 86 83.7 C94.33 84.3 107 84.93 116 85.9 C125 86.87 134.33 88.6 140 89.5 C145.67 90.4 146.67 90.65 150 91.3 C153.33 91.95 156.63 92.4 160 93.4 C163.37 94.4 167.17 95.67 170.2 97.3 C173.23 98.93 175.97 101.08 178.2 103.2 C180.43 105.32 182.17 107.6 183.6 110 C185.03 112.4 185.78 115.25 186.8 117.6 C187.82 119.95 188.8 122.03 189.7 124.1 C190.6 126.17 191.53 128.18 192.2 130 C192.87 131.82 193.23 133 193.7 135 C194.17 137 194.67 139.83 195 142 C195.33 144.17 195.52 145.83 195.7 148 C195.88 150.17 195.95 153 196.1 155 C196.25 157 196.23 158.33 196.6 160 C196.97 161.67 197.4 163.4 198.3 165 C199.2 166.6 200.43 168.32 202 169.6 C203.57 170.88 205.57 171.72 207.7 172.7 C209.83 173.68 212.22 174.62 214.8 175.5 C217.38 176.38 220.5 176.98 223.2 178 C225.9 179.02 228.2 180.39 231 181.6 C233.8 182.81 236.5 184.03 240 185.24 C243.5 186.45 248 187.68 252 188.84 C256 190 260 191.11 264 192.22 C268 193.33 272 194.39 276 195.5 C280 196.61 284 197.86 288 198.88 C292 199.9 296.58 200.57 300 201.64 C303.42 202.71 306.5 203.95 308.5 205.28 C310.5 206.61 311 207.99 312 209.6 C313 211.21 313.95 213.39 314.5 214.96 C315.05 216.53 315.13 217.49 315.3 219 C315.47 220.51 315.47 223.17 315.5 224" stroke="#14622e" stroke-width="1.35"/>
<path d="M36.5 81.4 C41.42 81.65 57.75 82.42 66 82.9 C74.25 83.38 77.67 83.7 86 84.3 C94.33 84.9 107 85.55 116 86.5 C125 87.45 134.33 89.13 140 90 C145.67 90.87 148.33 91.42 150 91.7" stroke="#14622e" stroke-width="1.2"/>
<path d="M36.5 79.8 C41.42 80.05 57.75 80.82 66 81.3 C74.25 81.78 77.67 82.1 86 82.7 C94.33 83.3 107 83.92 116 84.9 C125 85.88 134.33 87.7 140 88.6 C145.67 89.5 148.33 90.02 150 90.3" stroke="#2f9a52" stroke-width="1.2"/>
<path d="M57 12.5 C57.5 13 58.92 14.25 60 15.5 C61.08 16.75 62.25 18.45 63.5 20 C64.75 21.55 66.25 23.37 67.5 24.8 C68.75 26.23 69.25 27.23 71 28.6 C72.75 29.97 75.33 31.78 78 33 C80.67 34.22 83.95 35.12 87 35.9 C90.05 36.68 93.3 37.02 96.3 37.7 C99.3 38.38 101.98 39.1 105 40 C108.02 40.9 110.57 41.85 114.4 43.1 C118.23 44.35 123.73 46.18 128 47.5 C132.27 48.82 136.33 50.03 140 51 C143.67 51.97 146.67 52.22 150 53.3 C153.33 54.38 157.33 55.88 160 57.5 C162.67 59.12 164.33 60.58 166 63 C167.67 65.42 168.83 68.5 170 72 C171.17 75.5 172 80 173 84 C174 88 175.17 93.08 176 96 C176.83 98.92 176.75 99.75 178 101.5 C179.25 103.25 182 104.75 183.5 106.5 C185 108.25 186.42 111.08 187 112" stroke="#333333" stroke-width="1.2"/>
<path d="M64.5 16.5 C67.08 17.7 74.75 21.55 80 23.7 C85.25 25.85 90.67 27.65 96 29.4 C101.33 31.15 106.6 32.6 112 34.2 C117.4 35.8 123.73 37.53 128.4 39 C133.07 40.47 134.73 41.17 140 43 C145.27 44.83 154.17 47.33 160 50 C165.83 52.67 170.33 55.33 175 59 C179.67 62.67 184.5 67.33 188 72 C191.5 76.67 193.75 82.33 196 87 C198.25 91.67 200.3 95.83 201.5 100 C202.7 104.17 202.73 108 203.2 112 C203.67 116 203.97 120 204.3 124 C204.63 128 204.95 132 205.2 136 C205.45 140 205.6 144.5 205.8 148 C206 151.5 206.2 154.33 206.4 157 C206.6 159.67 206.77 162.23 207 164 C207.23 165.77 207.45 166.5 207.8 167.6 C208.15 168.7 208.07 169.68 209.1 170.6 C210.13 171.52 211.85 172.1 214 173.1 C216.15 174.1 219.17 175.35 222 176.6 C224.83 177.85 228 179.35 231 180.6 C234 181.85 236.5 182.9 240 184.12 C243.5 185.34 248 186.7 252 187.92 C256 189.14 260 190.3 264 191.46 C268 192.62 272 193.74 276 194.9 C280 196.06 284 197.37 288 198.44 C292 199.51 296.58 200.22 300 201.32 C303.42 202.42 306.5 203.69 308.5 205.04 C310.5 206.39 311 207.76 312 209.4 C313 211.04 313.95 213.28 314.5 214.88 C315.05 216.48 315.13 217.48 315.3 219 C315.47 220.52 315.47 223.17 315.5 224" stroke="#fbac72" stroke-width="1.2"/>
<path d="M112.3 12.5 C113.37 13.42 116.02 15.75 118.7 18 C121.38 20.25 124.85 23.3 128.4 26 C131.95 28.7 136.4 31.53 140 34.2 C143.6 36.87 146.67 39.37 150 42 C153.33 44.63 156.67 47 160 50 C163.33 53 166.33 56.33 170 60 C173.67 63.67 178.33 67.67 182 72 C185.67 76.33 189.33 81.67 192 86 C194.67 90.33 196.42 95.67 198 98 C199.58 100.33 200.63 97.67 201.5 100 C202.37 102.33 202.73 108 203.2 112 C203.67 116 203.97 120 204.3 124 C204.63 128 204.95 132 205.2 136 C205.45 140 205.6 144.5 205.8 148 C206 151.5 206.2 154.33 206.4 157 C206.6 159.67 206.77 162.23 207 164 C207.23 165.77 207.45 166.5 207.8 167.6 C208.15 168.7 208.07 169.68 209.1 170.6 C210.13 171.52 211.85 172.1 214 173.1 C216.15 174.1 219.17 175.35 222 176.6 C224.83 177.85 228 179.35 231 180.6 C234 181.85 236.5 182.9 240 184.12 C243.5 185.34 248 186.7 252 187.92 C256 189.14 260 190.3 264 191.46 C268 192.62 272 193.74 276 194.9 C280 196.06 284 197.37 288 198.44 C292 199.51 296.58 200.22 300 201.32 C303.42 202.42 306.5 203.69 308.5 205.04 C310.5 206.39 311 207.76 312 209.4 C313 211.04 313.95 213.28 314.5 214.88 C315.05 216.48 315.13 217.48 315.3 219 C315.47 220.52 315.47 223.17 315.5 224" stroke="#f4843a" stroke-width="1.2"/>
<path d="M172 12.5 C172.33 13.58 173.25 16.58 174 19 C174.75 21.42 175.75 24.67 176.5 27 C177.25 29.33 177.75 30.5 178.5 33 C179.25 35.5 179.75 37.83 181 42 C182.25 46.17 184.33 53 186 58 C187.67 63 189.42 67.5 191 72 C192.58 76.5 194.17 81 195.5 85 C196.83 89 198 93.5 199 96 C200 98.5 200.8 97.33 201.5 100 C202.2 102.67 202.73 108 203.2 112 C203.67 116 203.97 120 204.3 124 C204.63 128 204.95 132 205.2 136 C205.45 140 205.6 144.5 205.8 148 C206 151.5 206.2 154.33 206.4 157 C206.6 159.67 206.77 162.23 207 164 C207.23 165.77 207.45 166.5 207.8 167.6 C208.15 168.7 208.07 169.68 209.1 170.6 C210.13 171.52 211.85 172.1 214 173.1 C216.15 174.1 219.17 175.35 222 176.6 C224.83 177.85 228 179.35 231 180.6 C234 181.85 236.5 182.9 240 184.12 C243.5 185.34 248 186.7 252 187.92 C256 189.14 260 190.3 264 191.46 C268 192.62 272 193.74 276 194.9 C280 196.06 284 197.37 288 198.44 C292 199.51 296.58 200.22 300 201.32 C303.42 202.42 306.5 203.69 308.5 205.04 C310.5 206.39 311 207.76 312 209.4 C313 211.04 313.95 213.28 314.5 214.88 C315.05 216.48 315.13 217.48 315.3 219 C315.47 220.52 315.47 223.17 315.5 224" stroke="#f4843a" stroke-width="1.2"/>
<path d="M187.7 12.5 C187.95 14.75 188.7 21.42 189.2 26 C189.7 30.58 190.07 35.67 190.7 40 C191.33 44.33 192.2 48.33 193 52 C193.8 55.67 194.67 58.17 195.5 62 C196.33 65.83 197.25 70.67 198 75 C198.75 79.33 199.42 83.83 200 88 C200.58 92.17 200.97 96 201.5 100 C202.03 104 202.73 108 203.2 112 C203.67 116 203.97 120 204.3 124 C204.63 128 204.95 132 205.2 136 C205.45 140 205.6 144.5 205.8 148 C206 151.5 206.2 154.33 206.4 157 C206.6 159.67 206.77 162.23 207 164 C207.23 165.77 207.45 166.5 207.8 167.6 C208.15 168.7 208.07 169.68 209.1 170.6 C210.13 171.52 211.85 172.1 214 173.1 C216.15 174.1 219.17 175.35 222 176.6 C224.83 177.85 228 179.35 231 180.6 C234 181.85 236.5 182.9 240 184.12 C243.5 185.34 248 186.7 252 187.92 C256 189.14 260 190.3 264 191.46 C268 192.62 272 193.74 276 194.9 C280 196.06 284 197.37 288 198.44 C292 199.51 296.58 200.22 300 201.32 C303.42 202.42 306.5 203.69 308.5 205.04 C310.5 206.39 311 207.76 312 209.4 C313 211.04 313.95 213.28 314.5 214.88 C315.05 216.48 315.13 217.48 315.3 219 C315.47 220.52 315.47 223.17 315.5 224" stroke="#f28a48" stroke-width="1.2"/>
<path d="M191.3 12.5 C191.48 14.75 192.03 21.42 192.4 26 C192.77 30.58 193.07 35.67 193.5 40 C193.93 44.33 194.45 48.33 195 52 C195.55 55.67 196.18 58.17 196.8 62 C197.42 65.83 198.08 70.67 198.7 75 C199.32 79.33 200.03 83.83 200.5 88 C200.97 92.17 201.05 96 201.5 100 C201.95 104 202.73 108 203.2 112 C203.67 116 203.97 120 204.3 124 C204.63 128 204.95 132 205.2 136 C205.45 140 205.6 144.5 205.8 148 C206 151.5 206.2 154.33 206.4 157 C206.6 159.67 206.77 162.23 207 164 C207.23 165.77 207.45 166.5 207.8 167.6 C208.15 168.7 208.07 169.68 209.1 170.6 C210.13 171.52 211.85 172.1 214 173.1 C216.15 174.1 219.17 175.35 222 176.6 C224.83 177.85 228 179.35 231 180.6 C234 181.85 236.5 182.9 240 184.12 C243.5 185.34 248 186.7 252 187.92 C256 189.14 260 190.3 264 191.46 C268 192.62 272 193.74 276 194.9 C280 196.06 284 197.37 288 198.44 C292 199.51 296.58 200.22 300 201.32 C303.42 202.42 306.5 203.69 308.5 205.04 C310.5 206.39 311 207.76 312 209.4 C313 211.04 313.95 213.28 314.5 214.88 C315.05 216.48 315.13 217.48 315.3 219 C315.47 220.52 315.47 223.17 315.5 224" stroke="#ee7a35" stroke-width="1.2"/>
<path d="M194.1 12.5 C194.25 14.75 194.72 21.42 195 26 C195.28 30.58 195.5 35.67 195.8 40 C196.1 44.33 196.43 48.33 196.8 52 C197.17 55.67 197.57 58.17 198 62 C198.43 65.83 198.92 70.67 199.4 75 C199.88 79.33 200.55 83.83 200.9 88 C201.25 92.17 201.12 96 201.5 100 C201.88 104 202.73 108 203.2 112 C203.67 116 203.97 120 204.3 124 C204.63 128 204.95 132 205.2 136 C205.45 140 205.6 144.5 205.8 148 C206 151.5 206.2 154.33 206.4 157 C206.6 159.67 206.77 162.23 207 164 C207.23 165.77 207.45 166.5 207.8 167.6 C208.15 168.7 208.07 169.68 209.1 170.6 C210.13 171.52 211.85 172.1 214 173.1 C216.15 174.1 219.17 175.35 222 176.6 C224.83 177.85 228 179.35 231 180.6 C234 181.85 236.5 182.9 240 184.12 C243.5 185.34 248 186.7 252 187.92 C256 189.14 260 190.3 264 191.46 C268 192.62 272 193.74 276 194.9 C280 196.06 284 197.37 288 198.44 C292 199.51 296.58 200.22 300 201.32 C303.42 202.42 306.5 203.69 308.5 205.04 C310.5 206.39 311 207.76 312 209.4 C313 211.04 313.95 213.28 314.5 214.88 C315.05 216.48 315.13 217.48 315.3 219 C315.47 220.52 315.47 223.17 315.5 224" stroke="#f08040" stroke-width="1.2"/>
<path d="M196.7 12.5 C196.77 14.75 196.97 21.42 197.1 26 C197.23 30.58 197.32 35.67 197.5 40 C197.68 44.33 197.95 48.33 198.2 52 C198.45 55.67 198.7 58.17 199 62 C199.3 65.83 199.63 70.67 200 75 C200.37 79.33 200.95 83.83 201.2 88 C201.45 92.17 201.17 96 201.5 100 C201.83 104 202.73 108 203.2 112 C203.67 116 203.97 120 204.3 124 C204.63 128 204.95 132 205.2 136 C205.45 140 205.6 144.5 205.8 148 C206 151.5 206.2 154.33 206.4 157 C206.6 159.67 206.77 162.23 207 164 C207.23 165.77 207.45 166.5 207.8 167.6 C208.15 168.7 208.07 169.68 209.1 170.6 C210.13 171.52 211.85 172.1 214 173.1 C216.15 174.1 219.17 175.35 222 176.6 C224.83 177.85 228 179.35 231 180.6 C234 181.85 236.5 182.9 240 184.12 C243.5 185.34 248 186.7 252 187.92 C256 189.14 260 190.3 264 191.46 C268 192.62 272 193.74 276 194.9 C280 196.06 284 197.37 288 198.44 C292 199.51 296.58 200.22 300 201.32 C303.42 202.42 306.5 203.69 308.5 205.04 C310.5 206.39 311 207.76 312 209.4 C313 211.04 313.95 213.28 314.5 214.88 C315.05 216.48 315.13 217.48 315.3 219 C315.47 220.52 315.47 223.17 315.5 224" stroke="#e8702a" stroke-width="1.2"/>
<path d="M88.9 12.4 C89.57 12.8 91.43 13.32 92.9 14.8 C94.37 16.28 96.08 19.02 97.7 21.3 C99.32 23.58 100.72 26.35 102.6 28.5 C104.48 30.65 106.05 32.45 109 34.2 C111.95 35.95 115.13 37.28 120.3 39 C125.47 40.72 133.22 43.03 140 44.5 C146.78 45.97 154.17 46.47 161 47.8 C167.83 49.13 176.17 50.97 181 52.5 C185.83 54.03 187.67 55.08 190 57 C192.33 58.92 193.67 61 195 64 C196.33 67 197.13 71 198 75 C198.87 79 199.62 83.83 200.2 88 C200.78 92.17 201 96 201.5 100 C202 104 202.73 108 203.2 112 C203.67 116 203.97 120 204.3 124 C204.63 128 204.95 132 205.2 136 C205.45 140 205.6 144.5 205.8 148 C206 151.5 206.2 154.33 206.4 157 C206.6 159.67 206.77 162.23 207 164 C207.23 165.77 207.45 166.5 207.8 167.6 C208.15 168.7 208.07 169.68 209.1 170.6 C210.13 171.52 211.85 172.1 214 173.1 C216.15 174.1 219.17 175.35 222 176.6 C224.83 177.85 228 179.35 231 180.6 C234 181.85 236.5 182.9 240 184.12 C243.5 185.34 248 186.7 252 187.92 C256 189.14 260 190.3 264 191.46 C268 192.62 272 193.74 276 194.9 C280 196.06 284 197.37 288 198.44 C292 199.51 296.58 200.22 300 201.32 C303.42 202.42 306.5 203.69 308.5 205.04 C310.5 206.39 311 207.76 312 209.4 C313 211.04 313.95 213.28 314.5 214.88 C315.05 216.48 315.13 217.48 315.3 219 C315.47 220.52 315.47 223.17 315.5 224" stroke="#c4501a" stroke-width="1.3"/>
<path d="M36.5 50.7 C41.42 51.67 54.42 54.68 66 56.5 C77.58 58.32 93.67 59.85 106 61.6 C118.33 63.35 131 65.55 140 67 C149 68.45 153.67 68.38 160 70.3 C166.33 72.22 173.17 75.55 178 78.5 C182.83 81.45 186 84.75 189 88 C192 91.25 194.12 95 196 98 C197.88 101 199.1 103.67 200.3 106 C201.5 108.33 202.53 109 203.2 112 C203.87 115 203.97 120 204.3 124 C204.63 128 204.95 132 205.2 136 C205.45 140 205.6 144.5 205.8 148 C206 151.5 206.2 154.33 206.4 157 C206.6 159.67 206.77 162.23 207 164 C207.23 165.77 207.45 166.5 207.8 167.6 C208.15 168.7 208.07 169.68 209.1 170.6 C210.13 171.52 211.85 172.1 214 173.1 C216.15 174.1 219.17 175.35 222 176.6 C224.83 177.85 228 179.35 231 180.6 C234 181.85 236.5 182.9 240 184.12 C243.5 185.34 248 186.7 252 187.92 C256 189.14 260 190.3 264 191.46 C268 192.62 272 193.74 276 194.9 C280 196.06 284 197.37 288 198.44 C292 199.51 296.58 200.22 300 201.32 C303.42 202.42 306.5 203.69 308.5 205.04 C310.5 206.39 311 207.76 312 209.4 C313 211.04 313.95 213.28 314.5 214.88 C315.05 216.48 315.13 217.48 315.3 219 C315.47 220.52 315.47 223.17 315.5 224" stroke="#c4501a" stroke-width="1.3"/>
<path d="M36.5 56.9 C41.42 57.8 54.42 60.38 66 62.3 C77.58 64.22 93.67 66.58 106 68.4 C118.33 70.22 131 71.77 140 73.2 C149 74.63 154 75.37 160 77 C166 78.63 171.5 80.58 176 83 C180.5 85.42 184 88.75 187 91.5 C190 94.25 192.03 97.08 194 99.5 C195.97 101.92 197.5 104.17 198.8 106 C200.1 107.83 200.88 107.5 201.8 110.5 C202.72 113.5 203.73 119.75 204.3 124 C204.87 128.25 204.95 132 205.2 136 C205.45 140 205.6 144.5 205.8 148 C206 151.5 206.2 154.33 206.4 157 C206.6 159.67 206.77 162.23 207 164 C207.23 165.77 207.45 166.5 207.8 167.6 C208.15 168.7 208.07 169.68 209.1 170.6 C210.13 171.52 211.85 172.1 214 173.1 C216.15 174.1 219.17 175.35 222 176.6 C224.83 177.85 228 179.35 231 180.6 C234 181.85 236.5 182.9 240 184.12 C243.5 185.34 248 186.7 252 187.92 C256 189.14 260 190.3 264 191.46 C268 192.62 272 193.74 276 194.9 C280 196.06 284 197.37 288 198.44 C292 199.51 296.58 200.22 300 201.32 C303.42 202.42 306.5 203.69 308.5 205.04 C310.5 206.39 311 207.76 312 209.4 C313 211.04 313.95 213.28 314.5 214.88 C315.05 216.48 315.13 217.48 315.3 219 C315.47 220.52 315.47 223.17 315.5 224" stroke="#a0400c" stroke-width="1.9"/>
<path d="M140 39.5 C143.33 40.75 154 44.25 160 47 C166 49.75 171.33 52.5 176 56 C180.67 59.5 184.83 63.67 188 68 C191.17 72.33 193 77.5 195 82 C197 86.5 198.92 92 200 95 C201.08 98 200.97 97.17 201.5 100 C202.03 102.83 202.73 108 203.2 112 C203.67 116 203.97 120 204.3 124 C204.63 128 204.95 132 205.2 136 C205.45 140 205.6 144.5 205.8 148 C206 151.5 206.2 154.33 206.4 157 C206.6 159.67 206.77 162.23 207 164 C207.23 165.77 207.45 166.5 207.8 167.6 C208.15 168.7 208.07 169.68 209.1 170.6 C210.13 171.52 211.85 172.1 214 173.1 C216.15 174.1 219.17 175.35 222 176.6 C224.83 177.85 228 179.35 231 180.6 C234 181.85 236.5 182.9 240 184.12 C243.5 185.34 248 186.7 252 187.92 C256 189.14 260 190.3 264 191.46 C268 192.62 272 193.74 276 194.9 C280 196.06 284 197.37 288 198.44 C292 199.51 296.58 200.22 300 201.32 C303.42 202.42 306.5 203.69 308.5 205.04 C310.5 206.39 311 207.76 312 209.4 C313 211.04 313.95 213.28 314.5 214.88 C315.05 216.48 315.13 217.48 315.3 219 C315.47 220.52 315.47 223.17 315.5 224" stroke="#fbac72" stroke-width="1.2"/>
<path d="M201.5 100 C201.78 102 202.73 108 203.2 112 C203.67 116 203.97 120 204.3 124 C204.63 128 204.95 132 205.2 136 C205.45 140 205.6 144.5 205.8 148 C206 151.5 206.2 154.33 206.4 157 C206.6 159.67 206.77 162.23 207 164 C207.23 165.77 207.45 166.5 207.8 167.6 C208.15 168.7 208.07 169.68 209.1 170.6 C210.13 171.52 211.85 172.1 214 173.1 C216.15 174.1 219.17 175.35 222 176.6 C224.83 177.85 229.5 179.93 231 180.6" stroke="#b84a15" stroke-width="1.3"/>
<path d="M224 178.3 C225.17 179 228.33 181.25 231 182.5 C233.67 183.75 236.5 184.67 240 185.8 C243.5 186.93 248 188.17 252 189.3 C256 190.43 260 191.52 264 192.6 C268 193.68 272 194.72 276 195.8 C280 196.88 284 198.1 288 199.1 C292 200.1 296.58 200.75 300 201.8 C303.42 202.85 306.5 204.08 308.5 205.4 C310.5 206.72 311 208.1 312 209.7 C313 211.3 313.95 213.45 314.5 215 C315.05 216.55 315.13 217.5 315.3 219 C315.47 220.5 315.47 223.17 315.5 224" stroke="#a0400c" stroke-width="1.2"/>
<path d="M220 176.5 C221.83 177.21 227.67 179.56 231 180.75 C234.33 181.95 236.5 182.54 240 183.67 C243.5 184.81 248 186.3 252 187.55 C256 188.8 260 189.97 264 191.16 C268 192.34 272 193.48 276 194.66 C280 195.84 284 197.18 288 198.26 C292 199.35 296.58 200.08 300 201.19 C303.42 202.31 306.5 203.59 308.5 204.94 C310.5 206.3 311 207.67 312 209.32 C313 210.97 313.95 213.23 314.5 214.85 C315.05 216.46 315.13 217.47 315.3 219 C315.47 220.53 315.47 223.17 315.5 224" stroke="#b04a14" stroke-width="1.4"/>
<path d="M223 177.6 C224.33 178.26 228.17 180.4 231 181.58 C233.83 182.76 236.5 183.55 240 184.68 C243.5 185.81 248 187.19 252 188.38 C256 189.57 260 190.7 264 191.84 C268 192.98 272 194.06 276 195.2 C280 196.34 284 197.61 288 198.66 C292 199.71 296.58 200.4 300 201.48 C303.42 202.56 306.5 203.82 308.5 205.16 C310.5 206.5 311 207.87 312 209.5 C313 211.13 313.95 213.34 314.5 214.92 C315.05 216.5 315.13 217.49 315.3 219 C315.47 220.51 315.47 223.17 315.5 224" stroke="#7a2a06" stroke-width="1.5"/>
</g>
<g clip-path="url(#c2)" fill="none" stroke-linecap="butt" stroke-linejoin="round">
<path d="M396 13 C397.93 13.15 404.47 13.35 407.6 13.9 C410.73 14.45 413.23 15.53 414.8 16.3 C416.37 17.07 417.05 17.63 417 18.5 C416.95 19.37 416 20.33 414.5 21.5 C413 22.67 410.25 24.17 408 25.5 C405.75 26.83 403 28.42 401 29.5 C399 30.58 396.83 31.58 396 32" stroke="#333333" stroke-width="1.3"/>
<path d="M396 18.3 C396.97 18.45 400.35 18.8 401.8 19.2 C403.25 19.6 404.55 20.13 404.7 20.7 C404.85 21.27 403.67 22.12 402.7 22.6 C401.73 23.08 400.02 23.37 398.9 23.6 C397.78 23.83 396.48 23.93 396 24" stroke="#1a1a1a" stroke-width="1.6"/>
<path d="M396 16.8 C397.17 16.97 401.17 17.3 403 17.8 C404.83 18.3 406.83 19.07 407 19.8 C407.17 20.53 405.5 21.53 404 22.2 C402.5 22.87 399 23.53 398 23.8" stroke="#333333" stroke-width="1.2"/>
<path d="M396 19.8 C396.58 19.88 398.67 20.1 399.5 20.3 C400.33 20.5 401 20.75 401 21 C401 21.25 400.33 21.6 399.5 21.8 C398.67 22 396.58 22.13 396 22.2" stroke="#cfcfcf" stroke-width="1.2"/>
<path d="M396 31.8 C398.33 31.25 405.67 29.55 410 28.5 C414.33 27.45 418 26.58 422 25.5 C426 24.42 429.33 23.42 434 22 C438.67 20.58 447.33 17.83 450 17" stroke="#cfcfcf" stroke-width="1.2"/>
<path d="M397.5 30 C397.83 30.83 398.95 33.33 399.5 35 C400.05 36.67 400.22 37.17 400.8 40 C401.38 42.83 401.8 48 403 52 C404.2 56 405.93 60.33 408 64 C410.07 67.67 412.57 71.17 415.4 74 C418.23 76.83 421.78 79.2 425 81 C428.22 82.8 429.53 83.3 434.7 84.8 C439.87 86.3 448.45 88.38 456 90 C463.55 91.62 472.67 93.25 480 94.5 C487.33 95.75 495 96.67 500 97.5 C505 98.33 506.33 98.53 510 99.5 C513.67 100.47 518.67 102.05 522 103.3 C525.33 104.55 527.67 105.47 530 107 C532.33 108.53 534.23 110.5 536 112.5 C537.77 114.5 539.3 117.08 540.6 119 C541.9 120.92 542.93 122.33 543.8 124 C544.67 125.67 545.17 127.17 545.8 129 C546.43 130.83 547.03 132.83 547.6 135 C548.17 137.17 548.72 139.67 549.2 142 C549.68 144.33 550.15 146.83 550.5 149 C550.85 151.17 551.12 153.17 551.3 155 C551.48 156.83 551.55 157.8 551.6 160 C551.65 162.2 551.52 165.15 551.6 168.2 C551.68 171.25 551.5 175.78 552.1 178.3 C552.7 180.82 553.68 181.82 555.2 183.3 C556.72 184.78 558.32 185.75 561.2 187.2 C564.08 188.65 568.7 190.5 572.5 192 C576.3 193.5 580.25 194.7 584 196.2 C587.75 197.7 591.17 199.68 595 201 C598.83 202.32 603 202.78 607 204.1 C611 205.42 615.77 207.4 619 208.9 C622.23 210.4 624.45 211.48 626.4 213.1 C628.35 214.72 629.78 216.78 630.7 218.6 C631.62 220.42 631.7 223.1 631.9 224" stroke="#8a8a8a" stroke-width="1.2"/>
<path d="M427 12.5 C427.83 15.42 430.5 25.42 432 30 C433.5 34.58 434.75 36.33 436 40 C437.25 43.67 438.1 48 439.5 52 C440.9 56 442.77 60.75 444.4 64 C446.03 67.25 447.37 69.25 449.3 71.5 C451.23 73.75 452.55 75.25 456 77.5 C459.45 79.75 464.33 82.58 470 85 C475.67 87.42 484.17 90 490 92 C495.83 94 501.67 95.75 505 97 C508.33 98.25 507.17 98.45 510 99.5 C512.83 100.55 518.67 102.05 522 103.3 C525.33 104.55 527.67 105.47 530 107 C532.33 108.53 534.23 110.5 536 112.5 C537.77 114.5 539.3 117.08 540.6 119 C541.9 120.92 542.93 122.33 543.8 124 C544.67 125.67 545.17 127.17 545.8 129 C546.43 130.83 547.03 132.83 547.6 135 C548.17 137.17 548.72 139.67 549.2 142 C549.68 144.33 550.15 146.83 550.5 149 C550.85 151.17 551.12 153.17 551.3 155 C551.48 156.83 551.55 157.8 551.6 160 C551.65 162.2 551.52 165.15 551.6 168.2 C551.68 171.25 551.5 175.78 552.1 178.3 C552.7 180.82 553.68 181.82 555.2 183.3 C556.72 184.78 558.32 185.75 561.2 187.2 C564.08 188.65 568.7 190.5 572.5 192 C576.3 193.5 580.25 194.7 584 196.2 C587.75 197.7 591.17 199.68 595 201 C598.83 202.32 603 202.78 607 204.1 C611 205.42 615.77 207.4 619 208.9 C622.23 210.4 624.45 211.48 626.4 213.1 C628.35 214.72 629.78 216.78 630.7 218.6 C631.62 220.42 631.7 223.1 631.9 224" stroke="#787878" stroke-width="1.3"/>
<path d="M440 12.5 C441 15.42 444.05 23.8 446 30 C447.95 36.2 450.03 44.7 451.7 49.7 C453.37 54.7 454.12 55.87 456 60 C457.88 64.13 460.58 70.5 463 74.5 C465.42 78.5 467.67 81.42 470.5 84 C473.33 86.58 475.92 88.17 480 90 C484.08 91.83 490.33 93.58 495 95 C499.67 96.42 505.5 97.75 508 98.5 C510.5 99.25 507.67 98.7 510 99.5 C512.33 100.3 518.67 102.05 522 103.3 C525.33 104.55 527.67 105.47 530 107 C532.33 108.53 534.23 110.5 536 112.5 C537.77 114.5 539.3 117.08 540.6 119 C541.9 120.92 542.93 122.33 543.8 124 C544.67 125.67 545.17 127.17 545.8 129 C546.43 130.83 547.03 132.83 547.6 135 C548.17 137.17 548.72 139.67 549.2 142 C549.68 144.33 550.15 146.83 550.5 149 C550.85 151.17 551.12 153.17 551.3 155 C551.48 156.83 551.55 157.8 551.6 160 C551.65 162.2 551.52 165.15 551.6 168.2 C551.68 171.25 551.5 175.78 552.1 178.3 C552.7 180.82 553.68 181.82 555.2 183.3 C556.72 184.78 558.32 185.75 561.2 187.2 C564.08 188.65 568.7 190.5 572.5 192 C576.3 193.5 580.25 194.7 584 196.2 C587.75 197.7 591.17 199.68 595 201 C598.83 202.32 603 202.78 607 204.1 C611 205.42 615.77 207.4 619 208.9 C622.23 210.4 624.45 211.48 626.4 213.1 C628.35 214.72 629.78 216.78 630.7 218.6 C631.62 220.42 631.7 223.1 631.9 224" stroke="#666666" stroke-width="1.3"/>
<path d="M451 12.5 C451.83 15.42 453.83 23.75 456 30 C458.17 36.25 462.17 45 464 50 C465.83 55 465.92 56.67 467 60 C468.08 63.33 468.33 66.17 470.5 70 C472.67 73.83 476.42 79.42 480 83 C483.58 86.58 487.67 89 492 91.5 C496.33 94 503 96.67 506 98 C509 99.33 507.33 98.62 510 99.5 C512.67 100.38 518.67 102.05 522 103.3 C525.33 104.55 527.67 105.47 530 107 C532.33 108.53 534.23 110.5 536 112.5 C537.77 114.5 539.3 117.08 540.6 119 C541.9 120.92 542.93 122.33 543.8 124 C544.67 125.67 545.17 127.17 545.8 129 C546.43 130.83 547.03 132.83 547.6 135 C548.17 137.17 548.72 139.67 549.2 142 C549.68 144.33 550.15 146.83 550.5 149 C550.85 151.17 551.12 153.17 551.3 155 C551.48 156.83 551.55 157.8 551.6 160 C551.65 162.2 551.52 165.15 551.6 168.2 C551.68 171.25 551.5 175.78 552.1 178.3 C552.7 180.82 553.68 181.82 555.2 183.3 C556.72 184.78 558.32 185.75 561.2 187.2 C564.08 188.65 568.7 190.5 572.5 192 C576.3 193.5 580.25 194.7 584 196.2 C587.75 197.7 591.17 199.68 595 201 C598.83 202.32 603 202.78 607 204.1 C611 205.42 615.77 207.4 619 208.9 C622.23 210.4 624.45 211.48 626.4 213.1 C628.35 214.72 629.78 216.78 630.7 218.6 C631.62 220.42 631.7 223.1 631.9 224" stroke="#666666" stroke-width="1.3"/>
<path d="M462 12.5 C462.83 15.42 465 23.75 467 30 C469 36.25 472.33 45 474 50 C475.67 55 476 56.67 477 60 C478 63.33 478.25 66.37 480 70 C481.75 73.63 484.23 78.22 487.5 81.8 C490.77 85.38 495.57 88.68 499.6 91.5 C503.63 94.32 507.97 96.73 511.7 98.7 C515.43 100.67 518.95 101.92 522 103.3 C525.05 104.68 527.67 105.47 530 107 C532.33 108.53 534.23 110.5 536 112.5 C537.77 114.5 539.3 117.08 540.6 119 C541.9 120.92 542.93 122.33 543.8 124 C544.67 125.67 545.17 127.17 545.8 129 C546.43 130.83 547.03 132.83 547.6 135 C548.17 137.17 548.72 139.67 549.2 142 C549.68 144.33 550.15 146.83 550.5 149 C550.85 151.17 551.12 153.17 551.3 155 C551.48 156.83 551.55 157.8 551.6 160 C551.65 162.2 551.52 165.15 551.6 168.2 C551.68 171.25 551.5 175.78 552.1 178.3 C552.7 180.82 553.68 181.82 555.2 183.3 C556.72 184.78 558.32 185.75 561.2 187.2 C564.08 188.65 568.7 190.5 572.5 192 C576.3 193.5 580.25 194.7 584 196.2 C587.75 197.7 591.17 199.68 595 201 C598.83 202.32 603 202.78 607 204.1 C611 205.42 615.77 207.4 619 208.9 C622.23 210.4 624.45 211.48 626.4 213.1 C628.35 214.72 629.78 216.78 630.7 218.6 C631.62 220.42 631.7 223.1 631.9 224" stroke="#666666" stroke-width="1.3"/>
<path d="M396 48.5 C398.42 49.3 405.67 51.72 410.5 53.3 C415.33 54.88 420.15 56.38 425 58 C429.85 59.62 435.55 61.17 439.6 63 C443.65 64.83 446.57 66.78 449.3 69 C452.03 71.22 453.38 73.8 456 76.3 C458.62 78.8 461 81.47 465 84 C469 86.53 474.17 89.33 480 91.5 C485.83 93.67 495 95.67 500 97 C505 98.33 506.33 98.45 510 99.5 C513.67 100.55 518.67 102.05 522 103.3 C525.33 104.55 527.67 105.47 530 107 C532.33 108.53 534.23 110.5 536 112.5 C537.77 114.5 539.3 117.08 540.6 119 C541.9 120.92 542.93 122.33 543.8 124 C544.67 125.67 545.17 127.17 545.8 129 C546.43 130.83 547.03 132.83 547.6 135 C548.17 137.17 548.72 139.67 549.2 142 C549.68 144.33 550.15 146.83 550.5 149 C550.85 151.17 551.12 153.17 551.3 155 C551.48 156.83 551.55 157.8 551.6 160 C551.65 162.2 551.52 165.15 551.6 168.2 C551.68 171.25 551.5 175.78 552.1 178.3 C552.7 180.82 553.68 181.82 555.2 183.3 C556.72 184.78 558.32 185.75 561.2 187.2 C564.08 188.65 568.7 190.5 572.5 192 C576.3 193.5 580.25 194.7 584 196.2 C587.75 197.7 591.17 199.68 595 201 C598.83 202.32 603 202.78 607 204.1 C611 205.42 615.77 207.4 619 208.9 C622.23 210.4 624.45 211.48 626.4 213.1 C628.35 214.72 629.78 216.78 630.7 218.6 C631.62 220.42 631.7 223.1 631.9 224" stroke="#333333" stroke-width="1.2"/>
<path d="M396 97 C401 97.1 418.67 97.4 426 97.6 C433.33 97.8 435 97.9 440 98.2 C445 98.5 449.33 98.78 456 99.4 C462.67 100.02 474.33 101.37 480 101.9 C485.67 102.43 486 102.08 490 102.6 C494 103.12 500 104.43 504 105 C508 105.57 510.33 105 514 106 C517.67 107 522.67 109.17 526 111 C529.33 112.83 532.67 116 534 117" stroke="#cfcfcf" stroke-width="1.6"/>
<path d="M396 95.4 C401 95.5 418.67 95.8 426 96 C433.33 96.2 435 96.3 440 96.6 C445 96.9 449.33 97.18 456 97.8 C462.67 98.42 474.33 99.77 480 100.3 C485.67 100.83 486 100.48 490 101 C494 101.52 500 102.73 504 103.4 C508 104.07 510.33 103.95 514 105 C517.67 106.05 522.33 107.65 526 109.7 C529.67 111.75 533.57 115.75 536 117.3 C538.43 118.85 539.3 117.88 540.6 119 C541.9 120.12 542.93 122.33 543.8 124 C544.67 125.67 545.17 127.17 545.8 129 C546.43 130.83 547.03 132.83 547.6 135 C548.17 137.17 548.72 139.67 549.2 142 C549.68 144.33 550.15 146.83 550.5 149 C550.85 151.17 551.12 153.17 551.3 155 C551.48 156.83 551.55 157.8 551.6 160 C551.65 162.2 551.52 165.15 551.6 168.2 C551.68 171.25 551.5 175.78 552.1 178.3 C552.7 180.82 553.68 181.82 555.2 183.3 C556.72 184.78 558.32 185.75 561.2 187.2 C564.08 188.65 568.7 190.5 572.5 192 C576.3 193.5 580.25 194.7 584 196.2 C587.75 197.7 591.17 199.68 595 201 C598.83 202.32 603 202.78 607 204.1 C611 205.42 615.77 207.4 619 208.9 C622.23 210.4 624.45 211.48 626.4 213.1 C628.35 214.72 629.78 216.78 630.7 218.6 C631.62 220.42 631.7 223.1 631.9 224" stroke="#1a1a1a" stroke-width="1.2"/>
<path d="M536 112.5 C536.77 113.58 539.3 117.08 540.6 119 C541.9 120.92 542.93 122.33 543.8 124 C544.67 125.67 545.17 127.17 545.8 129 C546.43 130.83 547.03 132.83 547.6 135 C548.17 137.17 548.72 139.67 549.2 142 C549.68 144.33 550.15 146.83 550.5 149 C550.85 151.17 551.12 153.17 551.3 155 C551.48 156.83 551.55 157.8 551.6 160 C551.65 162.2 551.52 165.15 551.6 168.2 C551.68 171.25 551.5 175.78 552.1 178.3 C552.7 180.82 553.68 181.82 555.2 183.3 C556.72 184.78 560.2 186.55 561.2 187.2" stroke="#1a1a1a" stroke-width="1.25"/>
<path d="M399.8 13.4 C401.42 13.57 407.08 13.92 409.5 14.4 C411.92 14.88 413.42 15.67 414.3 16.3 C415.18 16.93 415.28 17.4 414.8 18.2 C414.32 19 412.77 20.2 411.4 21.1 C410.03 22 408.5 22.7 406.6 23.6 C404.7 24.5 401.1 26.02 400 26.5" stroke="#2f9a52" stroke-width="1.2"/>
<path d="M396 87 C401 87.25 418.67 87.83 426 88.5 C433.33 89.17 435 90.28 440 91 C445 91.72 449.33 91.92 456 92.8 C462.67 93.68 474.33 95.37 480 96.3 C485.67 97.23 486 97.58 490 98.4 C494 99.22 500 100.43 504 101.2 C508 101.97 510.33 101.88 514 103 C517.67 104.12 522.33 105.88 526 107.9 C529.67 109.92 533.57 112.98 536 115.1 C538.43 117.22 539.33 118.88 540.6 120.6 C541.87 122.32 542.8 123.83 543.6 125.4 C544.4 126.97 544.75 128.07 545.4 130 C546.05 131.93 546.87 134.5 547.5 137 C548.13 139.5 548.72 142.5 549.2 145 C549.68 147.5 550.13 149.5 550.4 152 C550.67 154.5 550.83 157.42 550.8 160 C550.77 162.58 550.82 165.12 550.2 167.5 C549.58 169.88 547.68 172.67 547.1 174.3 C546.52 175.93 546.37 176.3 546.7 177.3 C547.03 178.3 547.68 179.12 549.1 180.3 C550.52 181.48 552.55 182.98 555.2 184.4 C557.85 185.82 562.12 187.48 565 188.8 C567.88 190.12 569.33 190.97 572.5 192.3 C575.67 193.63 580.25 195.25 584 196.8 C587.75 198.35 591.17 200.18 595 201.6 C598.83 203.02 603 203.88 607 205.3 C611 206.72 615.83 208.6 619 210.1 C622.17 211.6 624.17 212.73 626 214.3 C627.83 215.87 629.08 217.88 630 219.5 C630.92 221.12 631.25 223.25 631.5 224" stroke="#2f9a52" stroke-width="1.3"/>
<path d="M396 88.33 C401 88.56 418.67 89.09 426 89.67 C433.33 90.25 435 91.19 440 91.83 C445 92.47 449.33 92.68 456 93.52 C462.67 94.36 474.33 95.98 480 96.84 C485.67 97.7 486 97.93 490 98.69 C494 99.45 500 100.67 504 101.42 C508 102.16 510.33 102.08 514 103.18 C517.67 104.28 522.33 106.02 526 108.04 C529.67 110.07 533.57 113.22 536 115.32 C538.43 117.41 539.33 118.92 540.6 120.6 C541.87 122.28 542.8 123.83 543.6 125.4 C544.4 126.97 544.75 128.07 545.4 130 C546.05 131.93 546.87 134.5 547.5 137 C548.13 139.5 548.72 142.5 549.2 145 C549.68 147.5 550.13 149.5 550.4 152 C550.67 154.5 550.83 157.42 550.8 160 C550.77 162.58 550.82 165.12 550.2 167.5 C549.58 169.88 547.68 172.67 547.1 174.3 C546.52 175.93 546.37 176.3 546.7 177.3 C547.03 178.3 547.68 179.12 549.1 180.3 C550.52 181.48 552.55 182.98 555.2 184.4 C557.85 185.82 562.12 187.48 565 188.8 C567.88 190.12 569.33 190.97 572.5 192.3 C575.67 193.63 580.25 195.25 584 196.8 C587.75 198.35 591.17 200.18 595 201.6 C598.83 203.02 603 203.88 607 205.3 C611 206.72 615.83 208.6 619 210.1 C622.17 211.6 624.17 212.73 626 214.3 C627.83 215.87 629.08 217.88 630 219.5 C630.92 221.12 631.25 223.25 631.5 224" stroke="#5cb870" stroke-width="1.4"/>
<path d="M396 89.66 C401 89.86 418.67 90.34 426 90.84 C433.33 91.34 435 92.09 440 92.66 C445 93.22 449.33 93.45 456 94.24 C462.67 95.03 474.33 96.59 480 97.38 C485.67 98.17 486 98.27 490 98.98 C494 99.68 500 100.9 504 101.63 C508 102.36 510.33 102.27 514 103.36 C517.67 104.45 522.33 106.16 526 108.19 C529.67 110.22 533.57 113.46 536 115.53 C538.43 117.6 539.33 118.96 540.6 120.6 C541.87 122.24 542.8 123.83 543.6 125.4 C544.4 126.97 544.75 128.07 545.4 130 C546.05 131.93 546.87 134.5 547.5 137 C548.13 139.5 548.72 142.5 549.2 145 C549.68 147.5 550.13 149.5 550.4 152 C550.67 154.5 550.83 157.42 550.8 160 C550.77 162.58 550.82 165.12 550.2 167.5 C549.58 169.88 547.68 172.67 547.1 174.3 C546.52 175.93 546.37 176.3 546.7 177.3 C547.03 178.3 547.68 179.12 549.1 180.3 C550.52 181.48 552.55 182.98 555.2 184.4 C557.85 185.82 562.12 187.48 565 188.8 C567.88 190.12 569.33 190.97 572.5 192.3 C575.67 193.63 580.25 195.25 584 196.8 C587.75 198.35 591.17 200.18 595 201.6 C598.83 203.02 603 203.88 607 205.3 C611 206.72 615.83 208.6 619 210.1 C622.17 211.6 624.17 212.73 626 214.3 C627.83 215.87 629.08 217.88 630 219.5 C630.92 221.12 631.25 223.25 631.5 224" stroke="#5cb870" stroke-width="1.4"/>
<path d="M396 91 C401 91.17 418.67 91.6 426 92.01 C433.33 92.42 435 92.99 440 93.48 C445 93.98 449.33 94.22 456 94.96 C462.67 95.7 474.33 97.2 480 97.92 C485.67 98.64 486 98.61 490 99.26 C494 99.92 500 101.14 504 101.85 C508 102.56 510.33 102.46 514 103.54 C517.67 104.62 522.33 106.3 526 108.33 C529.67 110.37 533.57 113.7 536 115.75 C538.43 117.79 539.33 118.99 540.6 120.6 C541.87 122.21 542.8 123.83 543.6 125.4 C544.4 126.97 544.75 128.07 545.4 130 C546.05 131.93 546.87 134.5 547.5 137 C548.13 139.5 548.72 142.5 549.2 145 C549.68 147.5 550.13 149.5 550.4 152 C550.67 154.5 550.83 157.42 550.8 160 C550.77 162.58 550.82 165.12 550.2 167.5 C549.58 169.88 547.68 172.67 547.1 174.3 C546.52 175.93 546.37 176.3 546.7 177.3 C547.03 178.3 547.68 179.12 549.1 180.3 C550.52 181.48 552.55 182.98 555.2 184.4 C557.85 185.82 562.12 187.48 565 188.8 C567.88 190.12 569.33 190.97 572.5 192.3 C575.67 193.63 580.25 195.25 584 196.8 C587.75 198.35 591.17 200.18 595 201.6 C598.83 203.02 603 203.88 607 205.3 C611 206.72 615.83 208.6 619 210.1 C622.17 211.6 624.17 212.73 626 214.3 C627.83 215.87 629.08 217.88 630 219.5 C630.92 221.12 631.25 223.25 631.5 224" stroke="#2f9a52" stroke-width="1.4"/>
<path d="M396 92.33 C401 92.47 418.67 92.85 426 93.18 C433.33 93.51 435 93.9 440 94.31 C445 94.73 449.33 94.99 456 95.68 C462.67 96.37 474.33 97.81 480 98.46 C485.67 99.11 486 98.95 490 99.55 C494 100.15 500 101.37 504 102.06 C508 102.76 510.33 102.65 514 103.72 C517.67 104.79 522.33 106.44 526 108.48 C529.67 110.52 533.57 113.94 536 115.96 C538.43 117.98 539.33 119.03 540.6 120.6 C541.87 122.17 542.8 123.83 543.6 125.4 C544.4 126.97 544.75 128.07 545.4 130 C546.05 131.93 546.87 134.5 547.5 137 C548.13 139.5 548.72 142.5 549.2 145 C549.68 147.5 550.13 149.5 550.4 152 C550.67 154.5 550.83 157.42 550.8 160 C550.77 162.58 550.82 165.12 550.2 167.5 C549.58 169.88 547.68 172.67 547.1 174.3 C546.52 175.93 546.37 176.3 546.7 177.3 C547.03 178.3 547.68 179.12 549.1 180.3 C550.52 181.48 552.55 182.98 555.2 184.4 C557.85 185.82 562.12 187.48 565 188.8 C567.88 190.12 569.33 190.97 572.5 192.3 C575.67 193.63 580.25 195.25 584 196.8 C587.75 198.35 591.17 200.18 595 201.6 C598.83 203.02 603 203.88 607 205.3 C611 206.72 615.83 208.6 619 210.1 C622.17 211.6 624.17 212.73 626 214.3 C627.83 215.87 629.08 217.88 630 219.5 C630.92 221.12 631.25 223.25 631.5 224" stroke="#1b7a3a" stroke-width="1.4"/>
<path d="M396 93.51 C401 93.63 418.67 93.96 426 94.22 C433.33 94.48 435 94.7 440 95.05 C445 95.4 449.33 95.67 456 96.32 C462.67 96.97 474.33 98.36 480 98.94 C485.67 99.52 486 99.26 490 99.81 C494 100.36 500 101.58 504 102.26 C508 102.93 510.33 102.82 514 103.88 C517.67 104.94 522.33 106.56 526 108.6 C529.67 110.65 533.57 114.16 536 116.16 C538.43 118.16 539.33 119.06 540.6 120.6 C541.87 122.14 542.8 123.83 543.6 125.4 C544.4 126.97 544.75 128.07 545.4 130 C546.05 131.93 546.87 134.5 547.5 137 C548.13 139.5 548.72 142.5 549.2 145 C549.68 147.5 550.13 149.5 550.4 152 C550.67 154.5 550.83 157.42 550.8 160 C550.77 162.58 550.82 165.12 550.2 167.5 C549.58 169.88 547.68 172.67 547.1 174.3 C546.52 175.93 546.37 176.3 546.7 177.3 C547.03 178.3 547.68 179.12 549.1 180.3 C550.52 181.48 552.55 182.98 555.2 184.4 C557.85 185.82 562.12 187.48 565 188.8 C567.88 190.12 569.33 190.97 572.5 192.3 C575.67 193.63 580.25 195.25 584 196.8 C587.75 198.35 591.17 200.18 595 201.6 C598.83 203.02 603 203.88 607 205.3 C611 206.72 615.83 208.6 619 210.1 C622.17 211.6 624.17 212.73 626 214.3 C627.83 215.87 629.08 217.88 630 219.5 C630.92 221.12 631.25 223.25 631.5 224" stroke="#0b4a22" stroke-width="1.3"/>
<path d="M396 94.4 C401 94.5 418.67 94.8 426 95 C433.33 95.2 435 95.3 440 95.6 C445 95.9 449.33 96.18 456 96.8 C462.67 97.42 474.33 98.77 480 99.3 C485.67 99.83 486 99.48 490 100 C494 100.52 500 101.73 504 102.4 C508 103.07 510.33 102.95 514 104 C517.67 105.05 522.33 106.65 526 108.7 C529.67 110.75 533.57 114.32 536 116.3 C538.43 118.28 539.33 119.08 540.6 120.6 C541.87 122.12 542.8 123.83 543.6 125.4 C544.4 126.97 544.75 128.07 545.4 130 C546.05 131.93 546.87 134.5 547.5 137 C548.13 139.5 548.72 142.5 549.2 145 C549.68 147.5 550.13 149.5 550.4 152 C550.67 154.5 550.83 157.42 550.8 160 C550.77 162.58 550.82 165.12 550.2 167.5 C549.58 169.88 547.68 172.67 547.1 174.3 C546.52 175.93 546.37 176.3 546.7 177.3 C547.03 178.3 547.68 179.12 549.1 180.3 C550.52 181.48 552.55 182.98 555.2 184.4 C557.85 185.82 562.12 187.48 565 188.8 C567.88 190.12 569.33 190.97 572.5 192.3 C575.67 193.63 580.25 195.25 584 196.8 C587.75 198.35 591.17 200.18 595 201.6 C598.83 203.02 603 203.88 607 205.3 C611 206.72 615.83 208.6 619 210.1 C622.17 211.6 624.17 212.73 626 214.3 C627.83 215.87 629.08 217.88 630 219.5 C630.92 221.12 631.25 223.25 631.5 224" stroke="#0b4a22" stroke-width="1.2"/>
<path d="M466 95 C468.33 95.53 476 97.45 480 98.2 C484 98.95 486 98.87 490 99.5 C494 100.13 500 101.3 504 102 C508 102.7 510.33 102.62 514 103.7 C517.67 104.78 522.33 106.45 526 108.5 C529.67 110.55 533.57 113.98 536 116 C538.43 118.02 539.33 119.03 540.6 120.6 C541.87 122.17 542.8 123.83 543.6 125.4 C544.4 126.97 544.75 128.07 545.4 130 C546.05 131.93 546.87 134.5 547.5 137 C548.13 139.5 548.72 142.5 549.2 145 C549.68 147.5 550.13 149.5 550.4 152 C550.67 154.5 550.83 157.42 550.8 160 C550.77 162.58 550.82 165.12 550.2 167.5 C549.58 169.88 547.68 172.67 547.1 174.3 C546.52 175.93 546.37 176.3 546.7 177.3 C547.03 178.3 547.68 179.12 549.1 180.3 C550.52 181.48 552.55 182.98 555.2 184.4 C557.85 185.82 562.12 187.48 565 188.8 C567.88 190.12 569.33 190.97 572.5 192.3 C575.67 193.63 580.25 195.25 584 196.8 C587.75 198.35 591.17 200.18 595 201.6 C598.83 203.02 603 203.88 607 205.3 C611 206.72 615.83 208.6 619 210.1 C622.17 211.6 624.17 212.73 626 214.3 C627.83 215.87 629.08 217.88 630 219.5 C630.92 221.12 631.25 223.25 631.5 224" stroke="#0f4d24" stroke-width="1.5"/>
<path d="M396 15.3 C397.12 15.52 400.77 16.07 402.7 16.6 C404.63 17.13 406.42 17.85 407.6 18.5 C408.78 19.15 409.9 19.8 409.8 20.5 C409.7 21.2 408.47 22 407 22.7 C405.53 23.4 402.83 24.18 401 24.7 C399.17 25.22 396.83 25.62 396 25.8" stroke="#a63a0a" stroke-width="2.4"/>
<path d="M396 29.5 C398.33 28.72 405.67 26.25 410 24.8 C414.33 23.35 418 22.17 422 20.8 C426 19.43 430 17.98 434 16.6 C438 15.22 444 13.18 446 12.5" stroke="#fbac72" stroke-width="1.2"/>
<path d="M396 31 C398.33 30.3 405.67 28.17 410 26.8 C414.33 25.43 418 24.1 422 22.8 C426 21.5 428.5 20.72 434 19 C439.5 17.28 451.5 13.58 455 12.5" stroke="#fbac72" stroke-width="1.2"/>
<path d="M422.5 12.5 C422.12 13.42 420.72 16.33 420.2 18 C419.68 19.67 419.47 20.92 419.4 22.5 C419.33 24.08 419.45 25.92 419.8 27.5 C420.15 29.08 420.63 30.42 421.5 32 C422.37 33.58 423.58 35.33 425 37 C426.42 38.67 427.17 39.83 430 42 C432.83 44.17 438.33 47.33 442 50 C445.67 52.67 448.67 55.33 452 58 C455.33 60.67 458.17 63.17 462 66 C465.83 68.83 470.33 72.17 475 75 C479.67 77.83 484.17 80.5 490 83 C495.83 85.5 503.33 87.5 510 90 C516.67 92.5 524.5 95 530 98 C535.5 101 539.08 103.17 543 108 C546.92 112.83 551.37 121.67 553.5 127 C555.63 132.33 555.05 135.17 555.8 140 C556.55 144.83 557.43 151 558 156 C558.57 161 558.9 166.33 559.2 170 C559.5 173.67 559.5 175.83 559.8 178 C560.1 180.17 560.38 181.63 561 183 C561.62 184.37 561.58 184.82 563.5 186.2 C565.42 187.58 569.08 189.73 572.5 191.3 C575.92 192.87 580.25 194.08 584 195.6 C587.75 197.12 591.17 198.98 595 200.4 C598.83 201.82 603 202.68 607 204.1 C611 205.52 615.77 207.4 619 208.9 C622.23 210.4 624.45 211.48 626.4 213.1 C628.35 214.72 629.78 216.78 630.7 218.6 C631.62 220.42 631.7 223.1 631.9 224" stroke="#fbac72" stroke-width="1.2"/>
<path d="M427.5 40 C430.32 41.62 439.65 46.87 444.4 49.7 C449.15 52.53 451.73 54.28 456 57 C460.27 59.72 465.17 63 470 66 C474.83 69 479.17 71.83 485 75 C490.83 78.17 497.83 81.67 505 85 C512.17 88.33 521.83 91.67 528 95 C534.17 98.33 537.75 99.67 542 105 C546.25 110.33 551.2 121.17 553.5 127 C555.8 132.83 555.05 135.17 555.8 140 C556.55 144.83 557.43 151 558 156 C558.57 161 558.9 166.33 559.2 170 C559.5 173.67 559.5 175.83 559.8 178 C560.1 180.17 560.38 181.63 561 183 C561.62 184.37 561.58 184.82 563.5 186.2 C565.42 187.58 569.08 189.73 572.5 191.3 C575.92 192.87 580.25 194.08 584 195.6 C587.75 197.12 591.17 198.98 595 200.4 C598.83 201.82 603 202.68 607 204.1 C611 205.52 615.77 207.4 619 208.9 C622.23 210.4 624.45 211.48 626.4 213.1 C628.35 214.72 629.78 216.78 630.7 218.6 C631.62 220.42 631.7 223.1 631.9 224" stroke="#fbac72" stroke-width="1.2"/>
<path d="M396 54.5 C400 56.12 411.93 60.95 420 64.2 C428.07 67.45 438.4 71.58 444.4 74 C450.4 76.42 450.07 76.7 456 78.7 C461.93 80.7 472 83.95 480 86 C488 88.05 495.67 89 504 91 C512.33 93 523.17 94.83 530 98 C536.83 101.17 541.08 105.17 545 110 C548.92 114.83 551.7 122 553.5 127 C555.3 132 555.05 135.17 555.8 140 C556.55 144.83 557.43 151 558 156 C558.57 161 558.9 166.33 559.2 170 C559.5 173.67 559.5 175.83 559.8 178 C560.1 180.17 560.38 181.63 561 183 C561.62 184.37 561.58 184.82 563.5 186.2 C565.42 187.58 569.08 189.73 572.5 191.3 C575.92 192.87 580.25 194.08 584 195.6 C587.75 197.12 591.17 198.98 595 200.4 C598.83 201.82 603 202.68 607 204.1 C611 205.52 615.77 207.4 619 208.9 C622.23 210.4 624.45 211.48 626.4 213.1 C628.35 214.72 629.78 216.78 630.7 218.6 C631.62 220.42 631.7 223.1 631.9 224" stroke="#fbac72" stroke-width="1.2"/>
<path d="M396 67.8 C400 68.62 410 70.5 420 72.7 C430 74.9 443.33 78.45 456 81 C468.67 83.55 483.67 85.33 496 88 C508.33 90.67 521.83 93.33 530 97 C538.17 100.67 541.08 105 545 110 C548.92 115 551.7 122 553.5 127 C555.3 132 555.05 135.17 555.8 140 C556.55 144.83 557.43 151 558 156 C558.57 161 558.9 166.33 559.2 170 C559.5 173.67 559.5 175.83 559.8 178 C560.1 180.17 560.38 181.63 561 183 C561.62 184.37 561.58 184.82 563.5 186.2 C565.42 187.58 569.08 189.73 572.5 191.3 C575.92 192.87 580.25 194.08 584 195.6 C587.75 197.12 591.17 198.98 595 200.4 C598.83 201.82 603 202.68 607 204.1 C611 205.52 615.77 207.4 619 208.9 C622.23 210.4 624.45 211.48 626.4 213.1 C628.35 214.72 629.78 216.78 630.7 218.6 C631.62 220.42 631.7 223.1 631.9 224" stroke="#fdd0a2" stroke-width="1.2"/>
<path d="M509.5 12.5 C509.92 14.08 511.08 18.58 512 22 C512.92 25.42 513.25 27.83 515 33 C516.75 38.17 520.42 46.83 522.5 53 C524.58 59.17 525.58 64.83 527.5 70 C529.42 75.17 531.92 79 534 84 C536.08 89 538 95.33 540 100 C542 104.67 544.17 109 546 112 C547.83 115 549.75 115.5 551 118 C552.25 120.5 552.7 123.33 553.5 127 C554.3 130.67 555.05 135.17 555.8 140 C556.55 144.83 557.43 151 558 156 C558.57 161 558.9 166.33 559.2 170 C559.5 173.67 559.5 175.83 559.8 178 C560.1 180.17 560.38 181.63 561 183 C561.62 184.37 561.58 184.82 563.5 186.2 C565.42 187.58 569.08 189.73 572.5 191.3 C575.92 192.87 580.25 194.08 584 195.6 C587.75 197.12 591.17 198.98 595 200.4 C598.83 201.82 603 202.68 607 204.1 C611 205.52 615.77 207.4 619 208.9 C622.23 210.4 624.45 211.48 626.4 213.1 C628.35 214.72 629.78 216.78 630.7 218.6 C631.62 220.42 631.7 223.1 631.9 224" stroke="#f4843a" stroke-width="1.2"/>
<path d="M527.5 12.5 C527.92 15.08 529.17 22.5 530 28 C530.83 33.5 531.25 38.5 532.5 45.5 C533.75 52.5 535.83 62.58 537.5 70 C539.17 77.42 541 84.17 542.5 90 C544 95.83 545.25 101 546.5 105 C547.75 109 549.25 111.83 550 114 C550.75 116.17 550.42 115.83 551 118 C551.58 120.17 552.7 123.33 553.5 127 C554.3 130.67 555.05 135.17 555.8 140 C556.55 144.83 557.43 151 558 156 C558.57 161 558.9 166.33 559.2 170 C559.5 173.67 559.5 175.83 559.8 178 C560.1 180.17 560.38 181.63 561 183 C561.62 184.37 561.58 184.82 563.5 186.2 C565.42 187.58 569.08 189.73 572.5 191.3 C575.92 192.87 580.25 194.08 584 195.6 C587.75 197.12 591.17 198.98 595 200.4 C598.83 201.82 603 202.68 607 204.1 C611 205.52 615.77 207.4 619 208.9 C622.23 210.4 624.45 211.48 626.4 213.1 C628.35 214.72 629.78 216.78 630.7 218.6 C631.62 220.42 631.7 223.1 631.9 224" stroke="#f4843a" stroke-width="1.32"/>
<path d="M531 12.5 C531.37 15.08 532.49 22.5 533.24 28 C533.99 33.5 534.36 38.5 535.48 45.5 C536.6 52.5 538.51 62.58 539.96 70 C541.41 77.42 542.92 84.17 544.19 90 C545.45 95.83 546.57 101 547.54 105 C548.51 109 549.42 111.83 550 114 C550.58 116.17 550.42 115.83 551 118 C551.58 120.17 552.7 123.33 553.5 127 C554.3 130.67 555.05 135.17 555.8 140 C556.55 144.83 557.43 151 558 156 C558.57 161 558.9 166.33 559.2 170 C559.5 173.67 559.5 175.83 559.8 178 C560.1 180.17 560.38 181.63 561 183 C561.62 184.37 561.58 184.82 563.5 186.2 C565.42 187.58 569.08 189.73 572.5 191.3 C575.92 192.87 580.25 194.08 584 195.6 C587.75 197.12 591.17 198.98 595 200.4 C598.83 201.82 603 202.68 607 204.1 C611 205.52 615.77 207.4 619 208.9 C622.23 210.4 624.45 211.48 626.4 213.1 C628.35 214.72 629.78 216.78 630.7 218.6 C631.62 220.42 631.7 223.1 631.9 224" stroke="#ee7a35" stroke-width="1.32"/>
<path d="M535 12.5 C535.32 15.08 536.3 22.5 536.94 28 C537.59 33.5 537.92 38.5 538.89 45.5 C539.86 52.5 541.57 62.58 542.78 70 C543.98 77.42 545.12 84.17 546.11 90 C547.1 95.83 548.07 101 548.72 105 C549.37 109 549.62 111.83 550 114 C550.38 116.17 550.42 115.83 551 118 C551.58 120.17 552.7 123.33 553.5 127 C554.3 130.67 555.05 135.17 555.8 140 C556.55 144.83 557.43 151 558 156 C558.57 161 558.9 166.33 559.2 170 C559.5 173.67 559.5 175.83 559.8 178 C560.1 180.17 560.38 181.63 561 183 C561.62 184.37 561.58 184.82 563.5 186.2 C565.42 187.58 569.08 189.73 572.5 191.3 C575.92 192.87 580.25 194.08 584 195.6 C587.75 197.12 591.17 198.98 595 200.4 C598.83 201.82 603 202.68 607 204.1 C611 205.52 615.77 207.4 619 208.9 C622.23 210.4 624.45 211.48 626.4 213.1 C628.35 214.72 629.78 216.78 630.7 218.6 C631.62 220.42 631.7 223.1 631.9 224" stroke="#ec7632" stroke-width="1.32"/>
<path d="M539 12.5 C539.27 15.08 540.1 22.5 540.65 28 C541.2 33.5 541.47 38.5 542.3 45.5 C543.12 52.5 544.64 62.58 545.59 70 C546.55 77.42 547.32 84.17 548.04 90 C548.76 95.83 549.58 101 549.91 105 C550.23 109 549.82 111.83 550 114 C550.18 116.17 550.42 115.83 551 118 C551.58 120.17 552.7 123.33 553.5 127 C554.3 130.67 555.05 135.17 555.8 140 C556.55 144.83 557.43 151 558 156 C558.57 161 558.9 166.33 559.2 170 C559.5 173.67 559.5 175.83 559.8 178 C560.1 180.17 560.38 181.63 561 183 C561.62 184.37 561.58 184.82 563.5 186.2 C565.42 187.58 569.08 189.73 572.5 191.3 C575.92 192.87 580.25 194.08 584 195.6 C587.75 197.12 591.17 198.98 595 200.4 C598.83 201.82 603 202.68 607 204.1 C611 205.52 615.77 207.4 619 208.9 C622.23 210.4 624.45 211.48 626.4 213.1 C628.35 214.72 629.78 216.78 630.7 218.6 C631.62 220.42 631.7 223.1 631.9 224" stroke="#e06a2a" stroke-width="1.32"/>
<path d="M541 12.5 C541.25 15.08 542 22.5 542.5 28 C543 33.5 543.25 38.5 544 45.5 C544.75 52.5 546.17 62.58 547 70 C547.83 77.42 548.42 84.17 549 90 C549.58 95.83 550.33 101 550.5 105 C550.67 109 549.92 111.83 550 114 C550.08 116.17 550.42 115.83 551 118 C551.58 120.17 552.7 123.33 553.5 127 C554.3 130.67 555.05 135.17 555.8 140 C556.55 144.83 557.43 151 558 156 C558.57 161 558.9 166.33 559.2 170 C559.5 173.67 559.5 175.83 559.8 178 C560.1 180.17 560.38 181.63 561 183 C561.62 184.37 561.58 184.82 563.5 186.2 C565.42 187.58 569.08 189.73 572.5 191.3 C575.92 192.87 580.25 194.08 584 195.6 C587.75 197.12 591.17 198.98 595 200.4 C598.83 201.82 603 202.68 607 204.1 C611 205.52 615.77 207.4 619 208.9 C622.23 210.4 624.45 211.48 626.4 213.1 C628.35 214.72 629.78 216.78 630.7 218.6 C631.62 220.42 631.7 223.1 631.9 224" stroke="#ee7a35" stroke-width="1.32"/>
<path d="M440 12.5 C440.83 13.42 443.92 15.75 445 18 C446.08 20.25 445.67 23 446.5 26 C447.33 29 447.75 33 450 36 C452.25 39 455 41.42 460 44 C465 46.58 473.33 49.33 480 51.5 C486.67 53.67 494.17 55.42 500 57 C505.83 58.58 510.67 59.58 515 61 C519.33 62.42 522.08 63.17 526 65.5 C529.92 67.83 535.17 70.92 538.5 75 C541.83 79.08 544.17 84.83 546 90 C547.83 95.17 548.67 101.33 549.5 106 C550.33 110.67 550.33 114.5 551 118 C551.67 121.5 552.7 123.33 553.5 127 C554.3 130.67 555.05 135.17 555.8 140 C556.55 144.83 557.43 151 558 156 C558.57 161 558.9 166.33 559.2 170 C559.5 173.67 559.5 175.83 559.8 178 C560.1 180.17 560.38 181.63 561 183 C561.62 184.37 561.58 184.82 563.5 186.2 C565.42 187.58 569.08 189.73 572.5 191.3 C575.92 192.87 580.25 194.08 584 195.6 C587.75 197.12 591.17 198.98 595 200.4 C598.83 201.82 603 202.68 607 204.1 C611 205.52 615.77 207.4 619 208.9 C622.23 210.4 624.45 211.48 626.4 213.1 C628.35 214.72 629.78 216.78 630.7 218.6 C631.62 220.42 631.7 223.1 631.9 224" stroke="#c0541e" stroke-width="1.3"/>
<path d="M396 63 C400 63.4 412 64.18 420 65.4 C428 66.62 438 69.12 444 70.3 C450 71.48 450 71.38 456 72.5 C462 73.62 473.33 75.75 480 77 C486.67 78.25 490 79 496 80 C502 81 510.33 82 516 83 C521.67 84 526.25 85 530 86 C533.75 87 535.92 87.08 538.5 89 C541.08 90.92 543.67 94 545.5 97.5 C547.33 101 548.58 106.58 549.5 110 C550.42 113.42 550.33 115.17 551 118 C551.67 120.83 552.7 123.33 553.5 127 C554.3 130.67 555.05 135.17 555.8 140 C556.55 144.83 557.43 151 558 156 C558.57 161 558.9 166.33 559.2 170 C559.5 173.67 559.5 175.83 559.8 178 C560.1 180.17 560.38 181.63 561 183 C561.62 184.37 561.58 184.82 563.5 186.2 C565.42 187.58 569.08 189.73 572.5 191.3 C575.92 192.87 580.25 194.08 584 195.6 C587.75 197.12 591.17 198.98 595 200.4 C598.83 201.82 603 202.68 607 204.1 C611 205.52 615.77 207.4 619 208.9 C622.23 210.4 624.45 211.48 626.4 213.1 C628.35 214.72 629.78 216.78 630.7 218.6 C631.62 220.42 631.7 223.1 631.9 224" stroke="#a63a0a" stroke-width="1.3"/>
<path d="M396 82.5 C401 82.67 416 82.82 426 83.5 C436 84.18 445.33 85.27 456 86.6 C466.67 87.93 479.17 89.68 490 91.5 C500.83 93.32 513.33 95.42 521 97.5 C528.67 99.58 532 101.58 536 104 C540 106.42 542.5 109.67 545 112 C547.5 114.33 549.58 115.5 551 118 C552.42 120.5 552.7 123.33 553.5 127 C554.3 130.67 555.05 135.17 555.8 140 C556.55 144.83 557.43 151 558 156 C558.57 161 558.9 166.33 559.2 170 C559.5 173.67 559.5 175.83 559.8 178 C560.1 180.17 560.38 181.63 561 183 C561.62 184.37 561.58 184.82 563.5 186.2 C565.42 187.58 569.08 189.73 572.5 191.3 C575.92 192.87 580.25 194.08 584 195.6 C587.75 197.12 591.17 198.98 595 200.4 C598.83 201.82 603 202.68 607 204.1 C611 205.52 615.77 207.4 619 208.9 C622.23 210.4 624.45 211.48 626.4 213.1 C628.35 214.72 629.78 216.78 630.7 218.6 C631.62 220.42 631.7 223.1 631.9 224" stroke="#7f2704" stroke-width="1.5"/>
<path d="M396 85.8 C401 86 416 86.33 426 87 C436 87.67 445.33 88.58 456 89.8 C466.67 91.02 479.17 92.77 490 94.3 C500.83 95.83 513 96.88 521 99 C529 101.12 533.67 104.33 538 107 C542.33 109.67 544.83 113.17 547 115 C549.17 116.83 549.92 116 551 118 C552.08 120 552.7 123.33 553.5 127 C554.3 130.67 555.05 135.17 555.8 140 C556.55 144.83 557.43 151 558 156 C558.57 161 558.9 166.33 559.2 170 C559.5 173.67 559.5 175.83 559.8 178 C560.1 180.17 560.38 181.63 561 183 C561.62 184.37 561.58 184.82 563.5 186.2 C565.42 187.58 569.08 189.73 572.5 191.3 C575.92 192.87 580.25 194.08 584 195.6 C587.75 197.12 591.17 198.98 595 200.4 C598.83 201.82 603 202.68 607 204.1 C611 205.52 615.77 207.4 619 208.9 C622.23 210.4 624.45 211.48 626.4 213.1 C628.35 214.72 629.78 216.78 630.7 218.6 C631.62 220.42 631.7 223.1 631.9 224" stroke="#a63a0a" stroke-width="1.3"/>
<path d="M396 84.2 C401 84.38 416 84.63 426 85.3 C436 85.97 445.33 86.92 456 88.2 C466.67 89.48 479.17 91.33 490 93 C500.83 94.67 513.17 96.12 521 98.2 C528.83 100.28 532.83 102.95 537 105.5 C541.17 108.05 543.67 111.42 546 113.5 C548.33 115.58 549.75 115.75 551 118 C552.25 120.25 552.7 123.33 553.5 127 C554.3 130.67 555.05 135.17 555.8 140 C556.55 144.83 557.43 151 558 156 C558.57 161 558.9 166.33 559.2 170 C559.5 173.67 559.5 175.83 559.8 178 C560.1 180.17 560.38 181.63 561 183 C561.62 184.37 561.58 184.82 563.5 186.2 C565.42 187.58 569.08 189.73 572.5 191.3 C575.92 192.87 580.25 194.08 584 195.6 C587.75 197.12 591.17 198.98 595 200.4 C598.83 201.82 603 202.68 607 204.1 C611 205.52 615.77 207.4 619 208.9 C622.23 210.4 624.45 211.48 626.4 213.1 C628.35 214.72 629.78 216.78 630.7 218.6 C631.62 220.42 631.7 223.1 631.9 224" stroke="#fbac72" stroke-width="1.2"/>
<path d="M440 88 C442.67 88.47 447.67 89.58 456 90.8 C464.33 92.02 479.17 93.68 490 95.3 C500.83 96.92 512.83 98.3 521 100.5 C529.17 102.7 534.5 105.92 539 108.5 C543.5 111.08 546 114.42 548 116 C550 117.58 550.08 116.17 551 118 C551.92 119.83 552.7 123.33 553.5 127 C554.3 130.67 555.05 135.17 555.8 140 C556.55 144.83 557.43 151 558 156 C558.57 161 558.9 166.33 559.2 170 C559.5 173.67 559.5 175.83 559.8 178 C560.1 180.17 560.38 181.63 561 183 C561.62 184.37 561.58 184.82 563.5 186.2 C565.42 187.58 569.08 189.73 572.5 191.3 C575.92 192.87 580.25 194.08 584 195.6 C587.75 197.12 591.17 198.98 595 200.4 C598.83 201.82 603 202.68 607 204.1 C611 205.52 615.77 207.4 619 208.9 C622.23 210.4 624.45 211.48 626.4 213.1 C628.35 214.72 629.78 216.78 630.7 218.6 C631.62 220.42 631.7 223.1 631.9 224" stroke="#c4501a" stroke-width="1.2"/>
<path d="M553.5 127 C553.88 129.17 555.05 135.17 555.8 140 C556.55 144.83 557.43 151 558 156 C558.57 161 558.9 166.33 559.2 170 C559.5 173.67 559.5 175.83 559.8 178 C560.1 180.17 560.38 181.63 561 183 C561.62 184.37 561.58 184.82 563.5 186.2 C565.42 187.58 569.08 189.73 572.5 191.3 C575.92 192.87 580.25 194.08 584 195.6 C587.75 197.12 591.17 198.98 595 200.4 C598.83 201.82 603 202.68 607 204.1 C611 205.52 615.77 207.4 619 208.9 C622.23 210.4 624.45 211.48 626.4 213.1 C628.35 214.72 629.78 216.78 630.7 218.6 C631.62 220.42 631.7 223.1 631.9 224" stroke="#a8440f" stroke-width="1.3"/>
</g>
<path d="M255.2 24.8 h20" stroke="#555" stroke-width="1.4"/>
<text x="281.2" y="28.2" font-size="9.6" textLength="38.0" lengthAdjust="spacingAndGlyphs" style="stroke-width:0.12px">nominal</text>
<path d="M255.2 38.4 h20" stroke="#2a9a50" stroke-width="1.4"/>
<text x="281.2" y="41.8" font-size="9.6" textLength="38.8" lengthAdjust="spacingAndGlyphs" style="stroke-width:0.12px">0.1<tspan font-size="10.6" dy="0.4">×</tspan><tspan dy="-0.4"> K</tspan><tspan dy="2.2" font-size="6.6">zz</tspan></text>
<path d="M255.2 51.9 h20" stroke="#d9713f" stroke-width="1.4"/>
<text x="281.2" y="55.3" font-size="9.6" textLength="36.0" lengthAdjust="spacingAndGlyphs" style="stroke-width:0.12px">10<tspan font-size="10.6" dy="0.4">×</tspan><tspan dy="-0.4"> K</tspan><tspan dy="2.2" font-size="6.6">zz</tspan></text>
<path d="M615 24.8 h20" stroke="#555" stroke-width="1.4"/>
<text x="641" y="28.2" font-size="9.6" textLength="38.0" lengthAdjust="spacingAndGlyphs" style="stroke-width:0.12px">nominal</text>
<path d="M615 38.4 h20" stroke="#2a9a50" stroke-width="1.4"/>
<text x="641" y="41.8" font-size="9.6" textLength="38.8" lengthAdjust="spacingAndGlyphs" style="stroke-width:0.12px">0.1<tspan font-size="10.6" dy="0.4">×</tspan><tspan dy="-0.4"> K</tspan><tspan dy="2.2" font-size="6.6">zz</tspan></text>
<path d="M615 51.9 h20" stroke="#d9713f" stroke-width="1.4"/>
<text x="641" y="55.3" font-size="9.6" textLength="36.0" lengthAdjust="spacingAndGlyphs" style="stroke-width:0.12px">10<tspan font-size="10.6" dy="0.4">×</tspan><tspan dy="-0.4"> K</tspan><tspan dy="2.2" font-size="6.6">zz</tspan></text>
<path d="M33.5 12.5 h3 M34.8 18.67 h1.7 M34.8 22.27 h1.7 M34.8 24.83 h1.7 M34.8 26.81 h1.7 M34.8 28.44 h1.7 M34.8 29.81 h1.7 M34.8 31 h1.7 M34.8 32.04 h1.7 M34.8 32.98 h1.7 M34.8 39.15 h1.7 M34.8 42.75 h1.7 M34.8 45.31 h1.7 M34.8 47.29 h1.7 M34.8 48.92 h1.7 M34.8 50.29 h1.7 M34.8 51.48 h1.7 M34.8 52.52 h1.7 M33.5 53.46 h3 M34.8 59.63 h1.7 M34.8 63.23 h1.7 M34.8 65.79 h1.7 M34.8 67.77 h1.7 M34.8 69.4 h1.7 M34.8 70.77 h1.7 M34.8 71.96 h1.7 M34.8 73 h1.7 M34.8 73.94 h1.7 M34.8 80.11 h1.7 M34.8 83.71 h1.7 M34.8 86.27 h1.7 M34.8 88.25 h1.7 M34.8 89.88 h1.7 M34.8 91.25 h1.7 M34.8 92.44 h1.7 M34.8 93.48 h1.7 M33.5 94.42 h3 M34.8 100.59 h1.7 M34.8 104.19 h1.7 M34.8 106.75 h1.7 M34.8 108.73 h1.7 M34.8 110.36 h1.7 M34.8 111.73 h1.7 M34.8 112.92 h1.7 M34.8 113.96 h1.7 M34.8 114.9 h1.7 M34.8 121.07 h1.7 M34.8 124.67 h1.7 M34.8 127.23 h1.7 M34.8 129.21 h1.7 M34.8 130.84 h1.7 M34.8 132.21 h1.7 M34.8 133.4 h1.7 M34.8 134.44 h1.7 M33.5 135.38 h3 M34.8 141.55 h1.7 M34.8 145.15 h1.7 M34.8 147.71 h1.7 M34.8 149.69 h1.7 M34.8 151.32 h1.7 M34.8 152.69 h1.7 M34.8 153.88 h1.7 M34.8 154.92 h1.7 M34.8 155.86 h1.7 M34.8 162.03 h1.7 M34.8 165.63 h1.7 M34.8 168.19 h1.7 M34.8 170.17 h1.7 M34.8 171.8 h1.7 M34.8 173.17 h1.7 M34.8 174.36 h1.7 M34.8 175.4 h1.7 M33.5 176.34 h3 M34.8 182.51 h1.7 M34.8 186.11 h1.7 M34.8 188.67 h1.7 M34.8 190.65 h1.7 M34.8 192.28 h1.7 M34.8 193.65 h1.7 M34.8 194.84 h1.7 M34.8 195.88 h1.7 M34.8 196.82 h1.7 M34.8 202.99 h1.7 M34.8 206.59 h1.7 M34.8 209.15 h1.7 M34.8 211.13 h1.7 M34.8 212.76 h1.7 M34.8 214.13 h1.7 M34.8 215.32 h1.7 M34.8 216.36 h1.7 M33.5 217.3 h3 M36.5 222 v2.9 M49.1 222 v1.7 M56.47 222 v1.7 M61.7 222 v1.7 M65.76 222 v1.7 M69.07 222 v1.7 M71.87 222 v1.7 M74.3 222 v1.7 M76.44 222 v1.7 M78.36 222 v2.9 M90.96 222 v1.7 M98.33 222 v1.7 M103.56 222 v1.7 M107.61 222 v1.7 M110.93 222 v1.7 M113.73 222 v1.7 M116.16 222 v1.7 M118.3 222 v1.7 M120.21 222 v2.9 M132.81 222 v1.7 M140.19 222 v1.7 M145.41 222 v1.7 M149.47 222 v1.7 M152.79 222 v1.7 M155.59 222 v1.7 M158.02 222 v1.7 M160.16 222 v1.7 M162.07 222 v2.9 M174.67 222 v1.7 M182.04 222 v1.7 M187.27 222 v1.7 M191.33 222 v1.7 M194.64 222 v1.7 M197.44 222 v1.7 M199.87 222 v1.7 M202.01 222 v1.7 M203.93 222 v2.9 M216.53 222 v1.7 M223.9 222 v1.7 M229.13 222 v1.7 M233.19 222 v1.7 M236.5 222 v1.7 M239.3 222 v1.7 M241.73 222 v1.7 M243.87 222 v1.7 M245.79 222 v2.9 M258.39 222 v1.7 M265.76 222 v1.7 M270.99 222 v1.7 M275.04 222 v1.7 M278.36 222 v1.7 M281.16 222 v1.7 M283.59 222 v1.7 M285.73 222 v1.7 M287.64 222 v2.9 M300.24 222 v1.7 M307.61 222 v1.7 M312.84 222 v1.7 M316.9 222 v1.7 M320.21 222 v1.7 M323.02 222 v1.7 M325.44 222 v1.7 M327.58 222 v1.7 M329.5 222 v2.9 M329.5 222 v2.9" stroke="#000" stroke-width="0.7" fill="none"/>
<rect x="36.5" y="12.5" width="293" height="209.5" fill="none" stroke="#000" stroke-width="0.68"/>
<text x="30" y="15.8" text-anchor="end" font-size="8.7" style="stroke-width:0.1px">10<tspan dy="-3.7" font-size="6.4">−8</tspan></text>
<text x="30" y="56.76" text-anchor="end" font-size="8.7" style="stroke-width:0.1px">10<tspan dy="-3.7" font-size="6.4">−6</tspan></text>
<text x="30" y="97.72" text-anchor="end" font-size="8.7" style="stroke-width:0.1px">10<tspan dy="-3.7" font-size="6.4">−4</tspan></text>
<text x="30" y="138.68" text-anchor="end" font-size="8.7" style="stroke-width:0.1px">10<tspan dy="-3.7" font-size="6.4">−2</tspan></text>
<text x="30" y="179.64" text-anchor="end" font-size="8.7" style="stroke-width:0.1px">10<tspan dy="-3.7" font-size="6.4">0</tspan></text>
<text x="30" y="220.6" text-anchor="end" font-size="8.7" style="stroke-width:0.1px">10<tspan dy="-3.7" font-size="6.4">2</tspan></text>
<text x="36.8" y="233.9" text-anchor="middle" font-size="8.7" style="stroke-width:0.1px">10<tspan dy="-3.5" font-size="6.4">−10</tspan></text>
<text x="78.66" y="233.9" text-anchor="middle" font-size="8.7" style="stroke-width:0.1px">10<tspan dy="-3.5" font-size="6.4">−9</tspan></text>
<text x="120.51" y="233.9" text-anchor="middle" font-size="8.7" style="stroke-width:0.1px">10<tspan dy="-3.5" font-size="6.4">−8</tspan></text>
<text x="162.37" y="233.9" text-anchor="middle" font-size="8.7" style="stroke-width:0.1px">10<tspan dy="-3.5" font-size="6.4">−7</tspan></text>
<text x="204.23" y="233.9" text-anchor="middle" font-size="8.7" style="stroke-width:0.1px">10<tspan dy="-3.5" font-size="6.4">−6</tspan></text>
<text x="246.09" y="233.9" text-anchor="middle" font-size="8.7" style="stroke-width:0.1px">10<tspan dy="-3.5" font-size="6.4">−5</tspan></text>
<text x="287.94" y="233.9" text-anchor="middle" font-size="8.7" style="stroke-width:0.1px">10<tspan dy="-3.5" font-size="6.4">−4</tspan></text>
<text x="329.8" y="233.9" text-anchor="middle" font-size="8.7" style="stroke-width:0.1px">10<tspan dy="-3.5" font-size="6.4">−3</tspan></text>
<text x="136.3" y="246.2" font-size="9.9" textLength="92.6" lengthAdjust="spacingAndGlyphs">Volume mixing ratio</text>
<text transform="translate(8.4,149.3) rotate(-90)" font-size="9.9" textLength="64.2" lengthAdjust="spacingAndGlyphs">Pressure (bar)</text>
<text x="183" y="7.8" text-anchor="middle" font-size="10.8">CH<tspan dy="1.6" font-size="7.5">4</tspan></text>
<path d="M393.3 12.5 h3 M394.6 18.67 h1.7 M394.6 22.27 h1.7 M394.6 24.83 h1.7 M394.6 26.81 h1.7 M394.6 28.44 h1.7 M394.6 29.81 h1.7 M394.6 31 h1.7 M394.6 32.04 h1.7 M394.6 32.98 h1.7 M394.6 39.15 h1.7 M394.6 42.75 h1.7 M394.6 45.31 h1.7 M394.6 47.29 h1.7 M394.6 48.92 h1.7 M394.6 50.29 h1.7 M394.6 51.48 h1.7 M394.6 52.52 h1.7 M393.3 53.46 h3 M394.6 59.63 h1.7 M394.6 63.23 h1.7 M394.6 65.79 h1.7 M394.6 67.77 h1.7 M394.6 69.4 h1.7 M394.6 70.77 h1.7 M394.6 71.96 h1.7 M394.6 73 h1.7 M394.6 73.94 h1.7 M394.6 80.11 h1.7 M394.6 83.71 h1.7 M394.6 86.27 h1.7 M394.6 88.25 h1.7 M394.6 89.88 h1.7 M394.6 91.25 h1.7 M394.6 92.44 h1.7 M394.6 93.48 h1.7 M393.3 94.42 h3 M394.6 100.59 h1.7 M394.6 104.19 h1.7 M394.6 106.75 h1.7 M394.6 108.73 h1.7 M394.6 110.36 h1.7 M394.6 111.73 h1.7 M394.6 112.92 h1.7 M394.6 113.96 h1.7 M394.6 114.9 h1.7 M394.6 121.07 h1.7 M394.6 124.67 h1.7 M394.6 127.23 h1.7 M394.6 129.21 h1.7 M394.6 130.84 h1.7 M394.6 132.21 h1.7 M394.6 133.4 h1.7 M394.6 134.44 h1.7 M393.3 135.38 h3 M394.6 141.55 h1.7 M394.6 145.15 h1.7 M394.6 147.71 h1.7 M394.6 149.69 h1.7 M394.6 151.32 h1.7 M394.6 152.69 h1.7 M394.6 153.88 h1.7 M394.6 154.92 h1.7 M394.6 155.86 h1.7 M394.6 162.03 h1.7 M394.6 165.63 h1.7 M394.6 168.19 h1.7 M394.6 170.17 h1.7 M394.6 171.8 h1.7 M394.6 173.17 h1.7 M394.6 174.36 h1.7 M394.6 175.4 h1.7 M393.3 176.34 h3 M394.6 182.51 h1.7 M394.6 186.11 h1.7 M394.6 188.67 h1.7 M394.6 190.65 h1.7 M394.6 192.28 h1.7 M394.6 193.65 h1.7 M394.6 194.84 h1.7 M394.6 195.88 h1.7 M394.6 196.82 h1.7 M394.6 202.99 h1.7 M394.6 206.59 h1.7 M394.6 209.15 h1.7 M394.6 211.13 h1.7 M394.6 212.76 h1.7 M394.6 214.13 h1.7 M394.6 215.32 h1.7 M394.6 216.36 h1.7 M393.3 217.3 h3 M396.3 222 v2.9 M408.9 222 v1.7 M416.27 222 v1.7 M421.5 222 v1.7 M425.56 222 v1.7 M428.87 222 v1.7 M431.67 222 v1.7 M434.1 222 v1.7 M436.24 222 v1.7 M438.16 222 v2.9 M450.76 222 v1.7 M458.13 222 v1.7 M463.36 222 v1.7 M467.41 222 v1.7 M470.73 222 v1.7 M473.53 222 v1.7 M475.96 222 v1.7 M478.1 222 v1.7 M480.01 222 v2.9 M492.61 222 v1.7 M499.99 222 v1.7 M505.21 222 v1.7 M509.27 222 v1.7 M512.59 222 v1.7 M515.39 222 v1.7 M517.82 222 v1.7 M519.96 222 v1.7 M521.87 222 v2.9 M534.47 222 v1.7 M541.84 222 v1.7 M547.07 222 v1.7 M551.13 222 v1.7 M554.44 222 v1.7 M557.24 222 v1.7 M559.67 222 v1.7 M561.81 222 v1.7 M563.73 222 v2.9 M576.33 222 v1.7 M583.7 222 v1.7 M588.93 222 v1.7 M592.99 222 v1.7 M596.3 222 v1.7 M599.1 222 v1.7 M601.53 222 v1.7 M603.67 222 v1.7 M605.59 222 v2.9 M618.19 222 v1.7 M625.56 222 v1.7 M630.79 222 v1.7 M634.84 222 v1.7 M638.16 222 v1.7 M640.96 222 v1.7 M643.39 222 v1.7 M645.53 222 v1.7 M647.44 222 v2.9 M660.04 222 v1.7 M667.41 222 v1.7 M672.64 222 v1.7 M676.7 222 v1.7 M680.01 222 v1.7 M682.82 222 v1.7 M685.24 222 v1.7 M687.38 222 v1.7 M689.3 222 v2.9 M689.3 222 v2.9" stroke="#000" stroke-width="0.7" fill="none"/>
<rect x="396.3" y="12.5" width="293" height="209.5" fill="none" stroke="#000" stroke-width="0.68"/>
<text x="389.8" y="15.8" text-anchor="end" font-size="8.7" style="stroke-width:0.1px">10<tspan dy="-3.7" font-size="6.4">−8</tspan></text>
<text x="389.8" y="56.76" text-anchor="end" font-size="8.7" style="stroke-width:0.1px">10<tspan dy="-3.7" font-size="6.4">−6</tspan></text>
<text x="389.8" y="97.72" text-anchor="end" font-size="8.7" style="stroke-width:0.1px">10<tspan dy="-3.7" font-size="6.4">−4</tspan></text>
<text x="389.8" y="138.68" text-anchor="end" font-size="8.7" style="stroke-width:0.1px">10<tspan dy="-3.7" font-size="6.4">−2</tspan></text>
<text x="389.8" y="179.64" text-anchor="end" font-size="8.7" style="stroke-width:0.1px">10<tspan dy="-3.7" font-size="6.4">0</tspan></text>
<text x="389.8" y="220.6" text-anchor="end" font-size="8.7" style="stroke-width:0.1px">10<tspan dy="-3.7" font-size="6.4">2</tspan></text>
<text x="396.6" y="233.9" text-anchor="middle" font-size="8.7" style="stroke-width:0.1px">10<tspan dy="-3.5" font-size="6.4">−10</tspan></text>
<text x="438.46" y="233.9" text-anchor="middle" font-size="8.7" style="stroke-width:0.1px">10<tspan dy="-3.5" font-size="6.4">−9</tspan></text>
<text x="480.31" y="233.9" text-anchor="middle" font-size="8.7" style="stroke-width:0.1px">10<tspan dy="-3.5" font-size="6.4">−8</tspan></text>
<text x="522.17" y="233.9" text-anchor="middle" font-size="8.7" style="stroke-width:0.1px">10<tspan dy="-3.5" font-size="6.4">−7</tspan></text>
<text x="564.03" y="233.9" text-anchor="middle" font-size="8.7" style="stroke-width:0.1px">10<tspan dy="-3.5" font-size="6.4">−6</tspan></text>
<text x="605.89" y="233.9" text-anchor="middle" font-size="8.7" style="stroke-width:0.1px">10<tspan dy="-3.5" font-size="6.4">−5</tspan></text>
<text x="647.74" y="233.9" text-anchor="middle" font-size="8.7" style="stroke-width:0.1px">10<tspan dy="-3.5" font-size="6.4">−4</tspan></text>
<text x="689.6" y="233.9" text-anchor="middle" font-size="8.7" style="stroke-width:0.1px">10<tspan dy="-3.5" font-size="6.4">−3</tspan></text>
<text x="496.1" y="246.2" font-size="9.9" textLength="92.6" lengthAdjust="spacingAndGlyphs">Volume mixing ratio</text>
<text transform="translate(368.2,149.3) rotate(-90)" font-size="9.9" textLength="64.2" lengthAdjust="spacingAndGlyphs">Pressure (bar)</text>
<text x="542.8" y="7.8" text-anchor="middle" font-size="10.8">NH<tspan dy="1.6" font-size="7.5">3</tspan></text>
</svg></body></html>
